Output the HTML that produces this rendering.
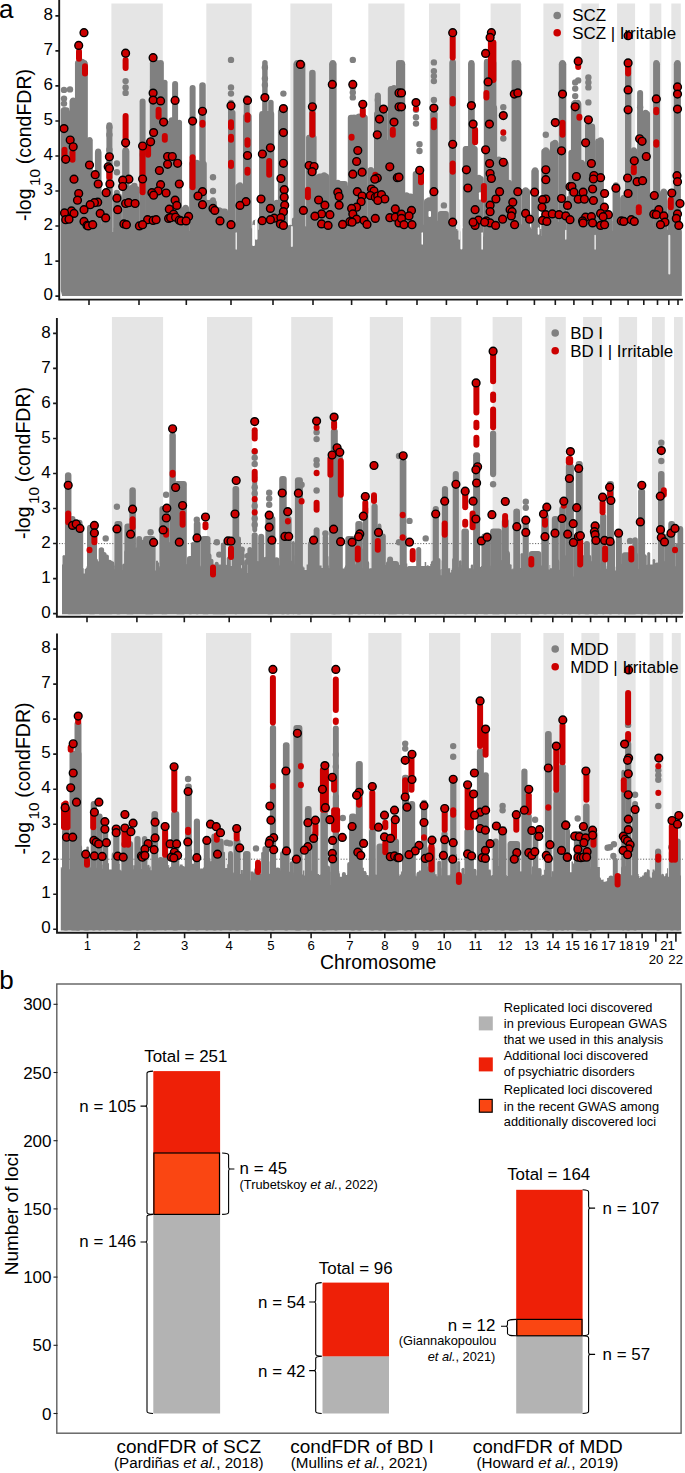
<!DOCTYPE html>
<html><head><meta charset="utf-8"><title>Figure</title><style>html,body{margin:0;padding:0;background:#fff}svg{display:block}</style></head><body>
<svg width="685" height="1473" viewBox="0 0 685 1473" font-family="'Liberation Sans', sans-serif" fill="#000">
<rect x="111.4" y="3.5" width="51.4" height="292.5" fill="#e5e5e5"/>
<rect x="206.3" y="3.5" width="45.4" height="292.5" fill="#e5e5e5"/>
<rect x="290.4" y="3.5" width="41.7" height="292.5" fill="#e5e5e5"/>
<rect x="368.3" y="3.5" width="36.2" height="292.5" fill="#e5e5e5"/>
<rect x="429.0" y="3.5" width="31.2" height="292.5" fill="#e5e5e5"/>
<rect x="490.6" y="3.5" width="30.2" height="292.5" fill="#e5e5e5"/>
<rect x="543.4" y="3.5" width="20.1" height="292.5" fill="#e5e5e5"/>
<rect x="581.4" y="3.5" width="17.5" height="292.5" fill="#e5e5e5"/>
<rect x="617.1" y="3.5" width="18.0" height="292.5" fill="#e5e5e5"/>
<rect x="649.6" y="3.5" width="11.7" height="292.5" fill="#e5e5e5"/>
<rect x="671.3" y="3.5" width="9.5" height="292.5" fill="#e5e5e5"/>
<polygon fill="#808080" points="62.0,296.0 62.0,227.2 63.0,227.2 63.0,230.1 63.7,230.1 63.7,229.7 65.2,229.7 65.2,228.7 66.2,228.7 66.2,230.4 69.2,230.4 69.2,235.2 72.2,235.2 72.2,227.8 74.2,227.8 74.2,226.5 74.9,226.5 74.9,229.6 75.6,229.6 75.6,226.7 77.1,226.7 77.1,233.4 79.1,233.4 79.1,224.9 80.6,224.9 80.6,229.3 81.6,229.3 81.6,223.8 83.1,223.8 83.1,227.9 84.6,227.9 84.6,230.5 86.6,230.5 86.6,229.2 88.6,229.2 88.6,223.7 89.6,223.7 89.6,225.3 91.6,225.3 91.6,226.0 94.6,226.0 94.6,227.0 95.6,227.0 95.6,225.4 98.6,225.4 98.6,233.5 101.6,233.5 101.6,230.6 104.6,230.6 104.6,230.7 105.6,230.7 105.6,229.3 107.6,229.3 107.6,230.9 109.6,230.9 109.6,228.5 111.6,228.5 111.6,231.9 113.6,231.9 113.6,227.8 115.6,227.8 115.6,229.1 117.6,229.1 117.6,228.6 119.6,228.6 119.6,231.2 120.6,231.2 120.6,229.6 121.6,229.6 121.6,228.2 124.6,228.2 124.6,227.8 125.6,227.8 125.6,237.9 127.6,237.9 127.6,223.8 130.6,223.8 130.6,228.0 132.6,228.0 132.6,231.4 134.6,231.4 134.6,227.9 136.1,227.9 136.1,225.4 137.1,225.4 137.1,229.6 140.1,229.6 140.1,231.0 142.1,231.0 142.1,228.7 143.1,228.7 143.1,227.9 144.1,227.9 144.1,227.2 145.1,227.2 145.1,226.8 148.1,226.8 148.1,227.6 148.8,227.6 148.8,228.2 149.5,228.2 149.5,228.9 152.5,228.9 152.5,229.0 153.2,229.0 153.2,229.1 154.2,229.1 154.2,224.6 156.2,224.6 156.2,228.2 158.2,228.2 158.2,228.9 159.2,228.9 159.2,229.9 160.2,229.9 160.2,229.4 161.2,229.4 161.2,229.2 163.2,229.2 163.2,231.5 165.2,231.5 165.2,232.8 166.2,232.8 166.2,225.3 168.2,225.3 168.2,228.0 170.2,228.0 170.2,224.7 171.2,224.7 171.2,229.3 173.2,229.3 173.2,237.0 175.2,237.0 175.2,230.5 178.2,230.5 178.2,229.2 178.9,229.2 178.9,228.7 179.9,228.7 179.9,231.4 182.9,231.4 182.9,228.4 183.9,228.4 183.9,230.3 184.9,230.3 184.9,238.2 187.9,238.2 187.9,231.1 189.9,231.1 189.9,224.5 192.9,224.5 192.9,233.2 194.9,233.2 194.9,230.6 195.6,230.6 195.6,228.1 197.1,228.1 197.1,230.1 199.1,230.1 199.1,231.2 199.8,231.2 199.8,233.2 200.8,233.2 200.8,227.9 201.8,227.9 201.8,229.2 202.8,229.2 202.8,229.7 204.8,229.7 204.8,231.2 206.8,231.2 206.8,230.9 208.8,230.9 208.8,230.8 210.8,230.8 210.8,229.1 211.5,229.1 211.5,230.9 213.5,230.9 213.5,229.4 215.5,229.4 215.5,229.5 216.5,229.5 216.5,224.3 219.5,224.3 219.5,226.2 221.5,226.2 221.5,228.6 223.5,228.6 223.5,231.2 225.0,231.2 225.0,229.0 228.0,229.0 228.0,227.3 228.7,227.3 228.7,230.3 230.2,230.3 230.2,229.4 232.2,229.4 232.2,226.8 233.2,226.8 233.2,226.3 234.7,226.3 234.7,229.6 235.4,229.6 235.4,234.9 237.4,234.9 237.4,226.5 240.4,226.5 240.4,227.8 241.4,227.8 241.4,229.1 242.4,229.1 242.4,231.1 243.4,231.1 243.4,225.5 244.9,225.5 244.9,225.7 246.9,225.7 246.9,228.7 247.9,228.7 247.9,229.5 248.9,229.5 248.9,226.8 249.6,226.8 249.6,228.3 251.6,228.3 251.6,228.8 252.6,228.8 252.6,223.7 253.6,223.7 253.6,231.0 254.3,231.0 254.3,225.0 257.3,225.0 257.3,229.7 259.3,229.7 259.3,229.5 260.3,229.5 260.3,231.1 261.3,231.1 261.3,225.3 262.0,225.3 262.0,228.6 264.0,228.6 264.0,229.5 265.0,229.5 265.0,231.0 266.0,231.0 266.0,225.7 268.0,225.7 268.0,230.4 269.0,230.4 269.0,228.9 272.0,228.9 272.0,228.4 272.7,228.4 272.7,229.4 273.7,229.4 273.7,231.7 274.4,231.7 274.4,228.1 277.4,228.1 277.4,229.3 280.4,229.3 280.4,229.4 283.4,229.4 283.4,230.9 285.4,230.9 285.4,228.6 286.4,228.6 286.4,227.1 287.1,227.1 287.1,231.3 289.1,231.3 289.1,230.8 290.1,230.8 290.1,231.3 293.1,231.3 293.1,227.9 296.1,227.9 296.1,226.0 298.1,226.0 298.1,229.1 299.1,229.1 299.1,228.9 301.1,228.9 301.1,231.5 304.1,231.5 304.1,229.4 307.1,229.4 307.1,228.2 308.6,228.2 308.6,229.1 310.1,229.1 310.1,236.8 311.6,236.8 311.6,226.5 313.1,226.5 313.1,229.0 315.1,229.0 315.1,231.5 316.1,231.5 316.1,229.8 317.1,229.8 317.1,230.1 319.1,230.1 319.1,230.1 320.1,230.1 320.1,223.8 322.1,223.8 322.1,228.9 324.1,228.9 324.1,226.7 325.6,226.7 325.6,230.3 327.6,230.3 327.6,225.8 329.6,225.8 329.6,231.4 331.6,231.4 331.6,231.2 334.6,231.2 334.6,231.0 335.6,231.0 335.6,230.7 336.6,230.7 336.6,229.1 339.6,229.1 339.6,227.8 341.6,227.8 341.6,230.4 344.6,230.4 344.6,229.1 346.6,229.1 346.6,231.4 347.6,231.4 347.6,229.4 349.6,229.4 349.6,230.5 351.6,230.5 351.6,229.1 353.1,229.1 353.1,225.0 355.1,225.0 355.1,227.7 355.8,227.7 355.8,229.3 356.8,229.3 356.8,224.7 357.8,224.7 357.8,229.4 359.8,229.4 359.8,223.7 362.8,223.7 362.8,223.9 364.3,223.9 364.3,229.6 365.8,229.6 365.8,228.1 366.8,228.1 366.8,230.4 367.8,230.4 367.8,224.6 369.3,224.6 369.3,230.8 370.3,230.8 370.3,225.0 371.0,225.0 371.0,236.6 373.0,236.6 373.0,229.4 375.0,229.4 375.0,230.2 376.0,230.2 376.0,230.9 377.0,230.9 377.0,227.2 380.0,227.2 380.0,229.1 383.0,229.1 383.0,231.2 384.0,231.2 384.0,231.2 387.0,231.2 387.0,228.9 388.0,228.9 388.0,236.2 391.0,236.2 391.0,231.5 391.7,231.5 391.7,227.7 394.7,227.7 394.7,230.3 395.4,230.3 395.4,230.6 396.4,230.6 396.4,228.6 399.4,228.6 399.4,228.5 400.9,228.5 400.9,230.9 402.9,230.9 402.9,229.3 404.9,229.3 404.9,230.3 406.4,230.3 406.4,227.4 407.4,227.4 407.4,228.1 409.4,228.1 409.4,228.0 410.9,228.0 410.9,226.6 412.9,226.6 412.9,230.5 414.9,230.5 414.9,230.2 416.9,230.2 416.9,229.9 418.9,229.9 418.9,230.5 420.4,230.5 420.4,226.7 422.4,226.7 422.4,230.8 423.1,230.8 423.1,225.7 425.1,225.7 425.1,230.5 425.8,230.5 425.8,228.4 427.8,228.4 427.8,227.3 428.8,227.3 428.8,229.6 431.8,229.6 431.8,228.4 432.8,228.4 432.8,229.1 434.8,229.1 434.8,229.1 437.8,229.1 437.8,235.7 439.8,235.7 439.8,229.4 441.8,229.4 441.8,229.5 442.5,229.5 442.5,229.1 444.5,229.1 444.5,230.7 445.2,230.7 445.2,230.2 447.2,230.2 447.2,225.8 448.2,225.8 448.2,226.9 448.9,226.9 448.9,230.1 450.9,230.1 450.9,234.0 452.9,234.0 452.9,227.2 454.9,227.2 454.9,230.8 455.9,230.8 455.9,229.1 457.4,229.1 457.4,230.4 460.4,230.4 460.4,231.5 462.4,231.5 462.4,230.6 464.4,230.6 464.4,224.7 467.4,224.7 467.4,223.8 468.4,223.8 468.4,229.0 469.4,229.0 469.4,227.0 471.4,227.0 471.4,231.3 473.4,231.3 473.4,231.4 475.4,231.4 475.4,229.0 476.9,229.0 476.9,225.3 477.9,225.3 477.9,228.9 478.9,228.9 478.9,230.6 480.9,230.6 480.9,229.8 481.6,229.8 481.6,223.7 483.1,223.7 483.1,236.4 483.8,236.4 483.8,228.7 486.8,228.7 486.8,230.8 488.8,230.8 488.8,230.6 490.8,230.6 490.8,230.7 491.8,230.7 491.8,229.3 492.5,229.3 492.5,229.1 494.0,229.1 494.0,229.5 495.0,229.5 495.0,229.0 497.0,229.0 497.0,230.1 499.0,230.1 499.0,223.6 499.7,223.6 499.7,231.6 500.4,231.6 500.4,229.7 501.9,229.7 501.9,229.2 503.9,229.2 503.9,224.3 504.9,224.3 504.9,229.5 505.9,229.5 505.9,230.6 507.4,230.6 507.4,228.8 508.1,228.8 508.1,231.1 508.8,231.1 508.8,232.1 509.5,232.1 509.5,231.4 512.5,231.4 512.5,228.9 515.5,228.9 515.5,229.0 516.2,229.0 516.2,227.1 517.2,227.1 517.2,229.6 519.2,229.6 519.2,224.7 520.2,224.7 520.2,230.4 521.2,230.4 521.2,228.6 524.2,228.6 524.2,227.7 526.2,227.7 526.2,225.0 526.9,225.0 526.9,231.2 528.9,231.2 528.9,226.4 530.4,226.4 530.4,227.4 531.4,227.4 531.4,229.1 534.4,229.1 534.4,231.4 535.1,231.4 535.1,228.7 538.1,228.7 538.1,231.0 540.1,231.0 540.1,228.9 541.6,228.9 541.6,235.9 542.6,235.9 542.6,226.9 544.1,226.9 544.1,227.0 547.1,227.0 547.1,228.8 547.8,228.8 547.8,229.3 548.8,229.3 548.8,229.4 549.5,229.4 549.5,229.0 550.5,229.0 550.5,229.0 553.5,229.0 553.5,229.9 555.5,229.9 555.5,229.2 556.5,229.2 556.5,229.8 557.5,229.8 557.5,229.0 559.5,229.0 559.5,231.6 562.5,231.6 562.5,227.9 564.5,227.9 564.5,231.3 566.5,231.3 566.5,224.4 569.5,224.4 569.5,230.2 570.5,230.2 570.5,229.0 571.2,229.0 571.2,238.1 571.9,238.1 571.9,229.9 573.9,229.9 573.9,229.6 574.9,229.6 574.9,228.6 576.9,228.6 576.9,231.3 577.6,231.3 577.6,227.9 578.6,227.9 578.6,225.2 580.1,225.2 580.1,223.7 581.1,223.7 581.1,226.4 584.1,226.4 584.1,229.2 586.1,229.2 586.1,231.2 588.1,231.2 588.1,227.5 589.1,227.5 589.1,231.6 591.1,231.6 591.1,228.4 594.1,228.4 594.1,228.6 595.6,228.6 595.6,229.0 597.6,229.0 597.6,229.0 599.6,229.0 599.6,229.8 600.3,229.8 600.3,227.2 602.3,227.2 602.3,227.5 604.3,227.5 604.3,230.5 605.3,230.5 605.3,227.0 607.3,227.0 607.3,227.7 610.3,227.7 610.3,229.9 611.3,229.9 611.3,231.1 613.3,231.1 613.3,228.9 615.3,228.9 615.3,227.0 616.3,227.0 616.3,230.6 617.3,230.6 617.3,226.0 619.3,226.0 619.3,227.2 620.8,227.2 620.8,228.6 621.8,228.6 621.8,228.1 623.8,228.1 623.8,230.4 625.3,230.4 625.3,227.8 627.3,227.8 627.3,231.6 628.0,231.6 628.0,229.5 628.7,229.5 628.7,228.0 630.7,228.0 630.7,231.3 633.7,231.3 633.7,230.9 635.7,230.9 635.7,227.9 637.7,227.9 637.7,231.4 639.7,231.4 639.7,230.5 641.7,230.5 641.7,229.0 642.7,229.0 642.7,228.0 644.2,228.0 644.2,228.6 645.2,228.6 645.2,227.9 646.7,227.9 646.7,229.4 647.7,229.4 647.7,224.6 649.7,224.6 649.7,224.1 650.4,224.1 650.4,229.4 651.9,229.4 651.9,230.8 654.9,230.8 654.9,228.4 656.4,228.4 656.4,229.7 659.4,229.7 659.4,231.6 660.9,231.6 660.9,231.2 663.9,231.2 663.9,226.8 665.9,226.8 665.9,230.1 667.4,230.1 667.4,229.4 669.4,229.4 669.4,228.1 670.4,228.1 670.4,226.8 672.4,226.8 672.4,229.3 673.9,229.3 673.9,229.0 674.9,229.0 674.9,233.6 676.9,233.6 676.9,229.3 678.4,229.3 678.4,227.1 680.4,227.1 680.4,231.5 681.1,231.5 681.1,230.2 681.8,230.2 681.8,296.0"/>
<g stroke="#808080" fill="none" stroke-linecap="round"><path d="M64.0 226.2V291.0" stroke-width="5.0"/><path d="M70.9 228.1V291.0" stroke-width="2.5"/><path d="M75.1 229.1V291.0" stroke-width="4.0"/><path d="M79.9 226.3V291.0" stroke-width="6.0"/><path d="M83.7 226.2V291.0" stroke-width="4.0"/><path d="M96.1 221.6V291.0" stroke-width="4.0"/><path d="M100.3 227.1V291.0" stroke-width="6.0"/><path d="M103.8 229.0V291.0" stroke-width="6.0"/><path d="M110.2 228.4V291.0" stroke-width="2.5"/><path d="M133.6 227.4V291.0" stroke-width="5.0"/><path d="M151.7 227.3V291.0" stroke-width="4.0"/><path d="M154.5 224.0V291.0" stroke-width="4.0"/><path d="M158.6 229.4V291.0" stroke-width="6.0"/><path d="M163.6 227.3V291.0" stroke-width="3.0"/><path d="M168.8 227.1V291.0" stroke-width="6.0"/><path d="M172.6 223.9V291.0" stroke-width="5.0"/><path d="M181.7 228.7V291.0" stroke-width="4.0"/><path d="M191.9 228.8V291.0" stroke-width="3.0"/><path d="M205.9 217.4V291.0" stroke-width="3.0"/><path d="M216.5 215.5V291.0" stroke-width="3.0"/><path d="M228.2 229.3V291.0" stroke-width="6.0"/><path d="M234.5 223.6V291.0" stroke-width="4.0"/><path d="M238.8 227.1V291.0" stroke-width="4.0"/><path d="M242.2 229.0V291.0" stroke-width="3.0"/><path d="M249.0 229.2V291.0" stroke-width="5.0"/><path d="M268.0 215.4V291.0" stroke-width="4.0"/><path d="M276.2 226.0V291.0" stroke-width="3.0"/><path d="M288.2 229.0V291.0" stroke-width="2.5"/><path d="M293.9 219.6V291.0" stroke-width="4.0"/><path d="M297.3 210.4V291.0" stroke-width="3.0"/><path d="M305.4 228.2V291.0" stroke-width="4.0"/><path d="M319.0 226.9V291.0" stroke-width="5.0"/><path d="M327.7 217.4V291.0" stroke-width="4.0"/><path d="M338.0 216.9V291.0" stroke-width="2.5"/><path d="M342.9 215.4V291.0" stroke-width="4.0"/><path d="M347.6 228.3V291.0" stroke-width="6.0"/><path d="M353.4 223.9V291.0" stroke-width="6.0"/><path d="M364.3 229.1V291.0" stroke-width="3.0"/><path d="M368.4 229.3V291.0" stroke-width="5.0"/><path d="M378.1 229.4V291.0" stroke-width="4.0"/><path d="M408.2 227.9V291.0" stroke-width="3.0"/><path d="M414.3 224.5V291.0" stroke-width="4.0"/><path d="M417.9 223.5V291.0" stroke-width="6.0"/><path d="M424.3 226.5V291.0" stroke-width="4.0"/><path d="M428.9 225.9V291.0" stroke-width="3.0"/><path d="M433.9 227.9V291.0" stroke-width="4.0"/><path d="M436.9 221.8V291.0" stroke-width="2.5"/><path d="M448.7 226.2V291.0" stroke-width="5.0"/><path d="M453.8 219.8V291.0" stroke-width="3.0"/><path d="M463.2 229.2V291.0" stroke-width="2.5"/><path d="M475.9 229.3V291.0" stroke-width="6.0"/><path d="M479.9 228.7V291.0" stroke-width="4.0"/><path d="M497.6 226.7V291.0" stroke-width="2.5"/><path d="M501.6 218.0V291.0" stroke-width="3.0"/><path d="M505.3 228.5V291.0" stroke-width="6.0"/><path d="M514.0 228.7V291.0" stroke-width="2.5"/><path d="M519.9 228.3V291.0" stroke-width="6.0"/><path d="M522.6 225.9V291.0" stroke-width="4.0"/><path d="M538.2 225.5V291.0" stroke-width="4.0"/><path d="M555.1 222.9V291.0" stroke-width="6.0"/><path d="M560.6 224.1V291.0" stroke-width="6.0"/><path d="M572.3 229.0V291.0" stroke-width="4.0"/><path d="M585.4 228.3V291.0" stroke-width="6.0"/><path d="M596.8 223.5V291.0" stroke-width="5.0"/><path d="M599.9 222.8V291.0" stroke-width="4.0"/><path d="M602.6 220.8V291.0" stroke-width="5.0"/><path d="M607.6 224.3V291.0" stroke-width="2.5"/><path d="M611.4 221.7V291.0" stroke-width="2.5"/><path d="M638.4 224.5V291.0" stroke-width="4.0"/><path d="M642.9 216.4V291.0" stroke-width="2.5"/><path d="M646.8 227.0V291.0" stroke-width="4.0"/><path d="M652.1 229.0V291.0" stroke-width="6.0"/><path d="M657.9 216.1V291.0" stroke-width="6.0"/><path d="M662.3 228.8V291.0" stroke-width="2.5"/><path d="M678.4 222.2V291.0" stroke-width="6.0"/></g>
<g stroke="#808080" fill="#808080" stroke-linecap="round" stroke-width="6.4"><path d="M64.0 110.6V290.0" stroke-width="6.5"/><path d="M67.0 113.1V290.0" stroke-width="6.5"/><path d="M73.2 100.4V290.0" stroke-width="6.0"/><path d="M78.2 63.2V290.0" stroke-width="6.5"/><path d="M82.0 61.9V290.0" stroke-width="6.5"/><path d="M85.0 63.9V290.0" stroke-width="5.5"/><path d="M89.5 140.3V290.0" stroke-width="6.0"/><path d="M98.2 151.5V290.0" stroke-width="6.0"/><path d="M109.4 125.3V290.0" stroke-width="6.0"/><path d="M125.6 150.5V290.0" stroke-width="6.5"/><path d="M142.6 101.6V290.0" stroke-width="6.0"/><path d="M153.1 63.2V290.0" stroke-width="6.5"/><path d="M156.9 63.2V290.0" stroke-width="6.5"/><path d="M160.6 63.2V290.0" stroke-width="6.5"/><path d="M164.8 82.6V290.0" stroke-width="5.5"/><path d="M175.1 84.1V290.0" stroke-width="6.0"/><path d="M179.3 122.6V290.0" stroke-width="5.5"/><path d="M192.6 87.9V290.0" stroke-width="6.0"/><path d="M202.5 85.6V290.0" stroke-width="6.5"/><path d="M213.0 200.2V290.0" stroke-width="6.0"/><path d="M219.3 210.2V290.0" stroke-width="6.0"/><path d="M171.8 120.6V290.0" stroke-width="6.5"/><path d="M185.6 207.7V290.0" stroke-width="6.0"/><path d="M131.9 187.7V290.0" stroke-width="6.0"/><path d="M104.4 192.7V290.0" stroke-width="6.0"/><path d="M94.4 177.7V290.0" stroke-width="6.0"/><path d="M116.9 192.7V290.0" stroke-width="6.0"/><path d="M148.1 142.5V290.0" stroke-width="5.5"/><path d="M196.8 162.8V290.0" stroke-width="6.0"/><path d="M206.8 202.5V290.0" stroke-width="5.5"/><rect x="61.5" y="107.3" width="8.0" height="188.7" rx="3" stroke="none"/><rect x="69.5" y="98.6" width="6.2" height="197.4" rx="3" stroke="none"/><rect x="75.7" y="59.9" width="11.7" height="236.1" rx="3" stroke="none"/><rect x="87.0" y="137.3" width="5.5" height="158.7" rx="3" stroke="none"/><rect x="91.9" y="174.7" width="3.0" height="121.3" rx="3" stroke="none"/><rect x="94.9" y="149.8" width="6.5" height="146.2" rx="3" stroke="none"/><rect x="101.4" y="191.0" width="5.5" height="105.0" rx="3" stroke="none"/><rect x="106.9" y="149.8" width="5.5" height="146.2" rx="3" stroke="none"/><rect x="113.2" y="193.5" width="8.7" height="102.5" rx="3" stroke="none"/><rect x="122.4" y="148.5" width="7.0" height="147.5" rx="3" stroke="none"/><rect x="129.4" y="186.0" width="10.0" height="110.0" rx="3" stroke="none"/><rect x="139.4" y="141.0" width="6.2" height="155.0" rx="3" stroke="none"/><rect x="145.6" y="141.0" width="4.2" height="155.0" rx="3" stroke="none"/><rect x="149.9" y="83.6" width="15.0" height="212.4" rx="3" stroke="none"/><rect x="164.8" y="121.1" width="17.0" height="174.9" rx="3" stroke="none"/><rect x="181.8" y="205.9" width="7.5" height="90.1" rx="3" stroke="none"/><rect x="189.3" y="161.0" width="17.5" height="135.0" rx="3" stroke="none"/><rect x="206.8" y="199.7" width="10.0" height="96.3" rx="3" stroke="none"/><rect x="216.8" y="208.4" width="11.2" height="87.6" rx="3" stroke="none"/><circle cx="64.0" cy="89.9" r="3.2" stroke="none"/><circle cx="70.0" cy="89.4" r="3.2" stroke="none"/><circle cx="64.0" cy="98.6" r="3.2" stroke="none"/><circle cx="64.0" cy="103.6" r="3.2" stroke="none"/><circle cx="116.9" cy="163.5" r="3.2" stroke="none"/><circle cx="116.9" cy="172.2" r="3.2" stroke="none"/><circle cx="125.6" cy="81.1" r="3.2" stroke="none"/><circle cx="125.6" cy="87.4" r="3.2" stroke="none"/><circle cx="125.6" cy="92.9" r="3.2" stroke="none"/><circle cx="213.0" cy="177.2" r="3.2" stroke="none"/><circle cx="213.0" cy="191.0" r="3.2" stroke="none"/><circle cx="109.4" cy="134.8" r="3.2" stroke="none"/><circle cx="109.4" cy="127.3" r="3.2" stroke="none"/><circle cx="109.4" cy="149.8" r="3.2" stroke="none"/><circle cx="134.4" cy="186.0" r="3.2" stroke="none"/><circle cx="142.6" cy="154.8" r="3.2" stroke="none"/><circle cx="192.6" cy="163.5" r="3.2" stroke="none"/><path d="M231.0 102.8V290.0" stroke-width="6.0"/><path d="M246.7 97.9V290.0" stroke-width="6.0"/><path d="M264.9 62.7V290.0" stroke-width="5.5"/><path d="M262.9 116.1V290.0" stroke-width="7.5"/><path d="M269.2 116.1V290.0" stroke-width="7.5"/><path d="M270.9 102.6V290.0" stroke-width="5.5"/><path d="M283.4 110.3V290.0" stroke-width="6.0"/><path d="M297.4 63.2V290.0" stroke-width="6.5"/><path d="M300.9 63.2V290.0" stroke-width="6.5"/><path d="M312.4 73.1V290.0" stroke-width="6.5"/><path d="M332.8 62.9V290.0" stroke-width="6.0"/><path d="M354.1 118.1V290.0" stroke-width="6.5"/><path d="M359.1 116.8V290.0" stroke-width="6.5"/><path d="M363.3 116.8V290.0" stroke-width="6.5"/><path d="M377.8 95.4V290.0" stroke-width="6.0"/><path d="M384.0 112.8V290.0" stroke-width="6.0"/><path d="M394.0 87.9V290.0" stroke-width="6.0"/><path d="M399.0 62.9V290.0" stroke-width="6.0"/><path d="M240.0 185.2V290.0" stroke-width="6.0"/><path d="M324.1 175.2V290.0" stroke-width="6.0"/><path d="M337.8 182.7V290.0" stroke-width="6.0"/><path d="M370.8 170.3V290.0" stroke-width="6.0"/><path d="M309.1 137.8V290.0" stroke-width="6.0"/><path d="M317.9 177.7V290.0" stroke-width="6.0"/><path d="M345.3 187.7V290.0" stroke-width="6.0"/><path d="M387.8 142.8V290.0" stroke-width="6.0"/><path d="M255.5 222.7V290.0" stroke-width="6.0"/><path d="M276.7 202.7V290.0" stroke-width="6.0"/><path d="M290.4 227.7V290.0" stroke-width="6.0"/><rect x="228.0" y="109.8" width="7.5" height="186.2" rx="3" stroke="none"/><rect x="235.5" y="183.5" width="8.0" height="112.5" rx="3" stroke="none"/><rect x="243.0" y="113.6" width="8.7" height="182.4" rx="3" stroke="none"/><rect x="259.2" y="111.1" width="15.0" height="184.9" rx="3" stroke="none"/><rect x="274.2" y="201.0" width="3.7" height="95.0" rx="3" stroke="none"/><rect x="277.9" y="108.6" width="10.0" height="187.4" rx="3" stroke="none"/><rect x="293.4" y="61.2" width="12.0" height="234.8" rx="3" stroke="none"/><rect x="306.6" y="134.8" width="10.0" height="161.2" rx="3" stroke="none"/><rect x="316.6" y="173.5" width="12.5" height="122.5" rx="3" stroke="none"/><rect x="329.1" y="61.2" width="7.5" height="234.8" rx="3" stroke="none"/><rect x="336.6" y="181.0" width="11.2" height="115.0" rx="3" stroke="none"/><rect x="347.8" y="114.8" width="20.0" height="181.2" rx="3" stroke="none"/><rect x="367.8" y="167.3" width="6.2" height="128.7" rx="3" stroke="none"/><rect x="374.0" y="111.1" width="13.7" height="184.9" rx="3" stroke="none"/><rect x="375.3" y="93.6" width="5.5" height="202.4" rx="3" stroke="none"/><rect x="387.8" y="86.1" width="11.2" height="209.9" rx="3" stroke="none"/><circle cx="231.0" cy="59.9" r="3.2" stroke="none"/><circle cx="231.0" cy="87.4" r="3.2" stroke="none"/><circle cx="231.0" cy="93.6" r="3.2" stroke="none"/><circle cx="283.4" cy="93.6" r="3.2" stroke="none"/><circle cx="352.8" cy="59.9" r="3.2" stroke="none"/><circle cx="352.8" cy="87.4" r="3.2" stroke="none"/><circle cx="352.8" cy="92.4" r="3.2" stroke="none"/><circle cx="352.8" cy="97.4" r="3.2" stroke="none"/><circle cx="264.9" cy="78.6" r="3.2" stroke="none"/><circle cx="264.9" cy="67.4" r="3.2" stroke="none"/><circle cx="264.9" cy="84.9" r="3.2" stroke="none"/><circle cx="377.8" cy="99.9" r="3.2" stroke="none"/><path d="M401.5 63.2V290.0" stroke-width="6.5"/><path d="M416.0 175.2V290.0" stroke-width="6.0"/><path d="M420.2 172.7V290.0" stroke-width="6.0"/><path d="M433.9 112.8V290.0" stroke-width="6.0"/><path d="M452.7 61.7V290.0" stroke-width="6.0"/><path d="M471.4 62.9V290.0" stroke-width="6.0"/><path d="M466.9 149.3V290.0" stroke-width="6.5"/><path d="M472.6 148.0V290.0" stroke-width="6.5"/><path d="M486.9 61.7V290.0" stroke-width="6.0"/><path d="M491.4 61.9V290.0" stroke-width="6.5"/><path d="M493.9 108.1V290.0" stroke-width="6.5"/><path d="M503.3 163.0V290.0" stroke-width="6.5"/><path d="M498.9 168.0V290.0" stroke-width="6.5"/><path d="M514.3 62.7V290.0" stroke-width="5.5"/><path d="M517.8 62.7V290.0" stroke-width="5.5"/><path d="M535.1 170.3V290.0" stroke-width="6.0"/><path d="M545.8 150.3V290.0" stroke-width="6.0"/><path d="M555.0 142.8V290.0" stroke-width="6.0"/><path d="M562.5 62.9V290.0" stroke-width="6.0"/><path d="M525.6 190.2V290.0" stroke-width="6.0"/><path d="M406.5 195.2V290.0" stroke-width="6.0"/><path d="M429.0 200.2V290.0" stroke-width="6.0"/><path d="M478.9 177.7V290.0" stroke-width="6.0"/><path d="M508.8 182.7V290.0" stroke-width="6.0"/><path d="M551.3 162.5V290.0" stroke-width="5.5"/><rect x="399.0" y="61.2" width="6.2" height="234.8" rx="3" stroke="none"/><rect x="405.2" y="193.5" width="8.7" height="102.5" rx="3" stroke="none"/><rect x="412.7" y="171.0" width="11.2" height="125.0" rx="3" stroke="none"/><rect x="424.0" y="198.5" width="6.2" height="97.5" rx="3" stroke="none"/><rect x="430.2" y="111.1" width="7.5" height="184.9" rx="3" stroke="none"/><rect x="437.7" y="210.9" width="11.2" height="85.1" rx="3" stroke="none"/><rect x="449.4" y="59.9" width="6.5" height="236.1" rx="3" stroke="none"/><rect x="462.7" y="146.0" width="15.0" height="150.0" rx="3" stroke="none"/><rect x="468.1" y="61.2" width="6.5" height="234.8" rx="3" stroke="none"/><rect x="477.6" y="176.0" width="6.2" height="120.0" rx="3" stroke="none"/><rect x="483.9" y="59.9" width="12.5" height="236.1" rx="3" stroke="none"/><rect x="496.4" y="161.0" width="12.5" height="135.0" rx="3" stroke="none"/><rect x="508.8" y="181.0" width="3.7" height="115.0" rx="3" stroke="none"/><rect x="512.6" y="61.2" width="8.7" height="234.8" rx="3" stroke="none"/><rect x="521.3" y="188.5" width="8.7" height="107.5" rx="3" stroke="none"/><rect x="531.3" y="168.5" width="7.5" height="127.5" rx="3" stroke="none"/><rect x="541.3" y="148.5" width="8.7" height="147.5" rx="3" stroke="none"/><rect x="550.0" y="141.0" width="8.7" height="155.0" rx="3" stroke="none"/><rect x="558.8" y="61.2" width="7.5" height="234.8" rx="3" stroke="none"/><rect x="566.3" y="196.0" width="3.7" height="100.0" rx="3" stroke="none"/><circle cx="416.0" cy="109.8" r="3.2" stroke="none"/><circle cx="416.0" cy="117.3" r="3.2" stroke="none"/><circle cx="416.0" cy="123.6" r="3.2" stroke="none"/><circle cx="419.5" cy="144.3" r="3.2" stroke="none"/><circle cx="419.5" cy="151.0" r="3.2" stroke="none"/><circle cx="433.9" cy="62.4" r="3.2" stroke="none"/><circle cx="433.9" cy="71.1" r="3.2" stroke="none"/><circle cx="433.9" cy="76.1" r="3.2" stroke="none"/><circle cx="433.9" cy="81.1" r="3.2" stroke="none"/><circle cx="433.9" cy="99.9" r="3.2" stroke="none"/><circle cx="503.3" cy="107.3" r="3.2" stroke="none"/><circle cx="503.3" cy="138.5" r="3.2" stroke="none"/><circle cx="545.8" cy="134.8" r="3.2" stroke="none"/><circle cx="443.9" cy="205.4" r="3.2" stroke="none"/><circle cx="498.9" cy="159.8" r="3.2" stroke="none"/><path d="M575.2 102.8V290.0" stroke-width="6.0"/><path d="M577.7 102.8V290.0" stroke-width="6.0"/><path d="M588.4 125.6V290.0" stroke-width="6.5"/><path d="M591.9 128.1V290.0" stroke-width="6.5"/><path d="M600.6 140.3V290.0" stroke-width="6.0"/><path d="M615.9 185.2V290.0" stroke-width="6.0"/><path d="M628.1 65.4V290.0" stroke-width="6.0"/><path d="M640.1 92.9V290.0" stroke-width="6.0"/><path d="M645.6 112.8V290.0" stroke-width="6.0"/><path d="M642.6 143.5V290.0" stroke-width="7.5"/><path d="M656.3 62.9V290.0" stroke-width="6.0"/><path d="M677.5 62.9V290.0" stroke-width="6.0"/><path d="M663.8 191.5V290.0" stroke-width="6.0"/><path d="M633.8 150.3V290.0" stroke-width="6.0"/><path d="M571.4 152.8V290.0" stroke-width="6.0"/><path d="M581.4 163.0V290.0" stroke-width="6.5"/><path d="M596.4 177.7V290.0" stroke-width="6.0"/><path d="M623.8 197.7V290.0" stroke-width="6.0"/><path d="M650.1 197.7V290.0" stroke-width="6.0"/><path d="M671.3 197.5V290.0" stroke-width="5.5"/><rect x="570.9" y="101.1" width="10.5" height="194.9" rx="3" stroke="none"/><rect x="581.4" y="161.0" width="3.7" height="135.0" rx="3" stroke="none"/><rect x="585.1" y="123.6" width="10.0" height="172.4" rx="3" stroke="none"/><rect x="595.1" y="138.5" width="8.7" height="157.5" rx="3" stroke="none"/><rect x="603.9" y="212.2" width="8.7" height="83.8" rx="3" stroke="none"/><rect x="612.6" y="183.5" width="7.5" height="112.5" rx="3" stroke="none"/><rect x="620.1" y="196.0" width="5.0" height="100.0" rx="3" stroke="none"/><rect x="625.1" y="63.7" width="6.2" height="232.3" rx="3" stroke="none"/><rect x="631.3" y="148.5" width="6.2" height="147.5" rx="3" stroke="none"/><rect x="637.6" y="111.1" width="12.5" height="184.9" rx="3" stroke="none"/><rect x="650.1" y="196.0" width="3.2" height="100.0" rx="3" stroke="none"/><rect x="653.3" y="61.2" width="6.7" height="234.8" rx="3" stroke="none"/><rect x="660.0" y="189.7" width="7.5" height="106.3" rx="3" stroke="none"/><rect x="667.5" y="198.5" width="6.2" height="97.5" rx="3" stroke="none"/><rect x="673.8" y="61.2" width="7.0" height="234.8" rx="3" stroke="none"/><circle cx="575.2" cy="82.4" r="3.2" stroke="none"/><circle cx="575.2" cy="88.6" r="3.2" stroke="none"/><circle cx="575.2" cy="96.1" r="3.2" stroke="none"/><circle cx="578.2" cy="80.4" r="3.2" stroke="none"/><circle cx="588.4" cy="77.4" r="3.2" stroke="none"/><circle cx="588.4" cy="82.4" r="3.2" stroke="none"/><circle cx="588.4" cy="87.4" r="3.2" stroke="none"/><circle cx="588.4" cy="102.4" r="3.2" stroke="none"/><circle cx="640.1" cy="107.3" r="3.2" stroke="none"/><circle cx="645.6" cy="117.3" r="3.2" stroke="none"/><circle cx="645.6" cy="124.8" r="3.2" stroke="none"/></g>
<rect x="252.2" y="224.7" width="2.7" height="21.2" rx="1" fill="#fff"/>
<rect x="255.0" y="219.7" width="2.5" height="20.0" rx="1" fill="#fff"/>
<rect x="290.9" y="225.9" width="2.0" height="21.2" rx="1" fill="#e5e5e5"/>
<rect x="235.5" y="232.2" width="1.5" height="17.5" rx="1" fill="#e5e5e5"/>
<rect x="460.4" y="225.9" width="2.0" height="23.7" rx="1" fill="#fff"/>
<rect x="458.4" y="224.7" width="2.0" height="15.0" rx="1" fill="#e5e5e5"/>
<rect x="428.5" y="210.9" width="2.5" height="6.2" rx="1" fill="#fff"/>
<rect x="478.9" y="192.2" width="2.5" height="7.5" rx="1" fill="#fff"/>
<rect x="481.4" y="232.2" width="1.5" height="17.5" rx="1" fill="#fff"/>
<rect x="421.5" y="232.2" width="1.5" height="12.5" rx="1" fill="#fff"/>
<rect x="668.3" y="234.7" width="2.0" height="39.9" rx="1" fill="#e5e5e5"/>
<rect x="594.4" y="234.7" width="1.5" height="15.0" rx="1" fill="#e5e5e5"/>
<rect x="537.7" y="227.2" width="1.7" height="7.5" rx="1" fill="#fff"/>
<rect x="565.2" y="229.7" width="1.2" height="10.0" rx="1" fill="#fff"/>
<g stroke="#cc0000" fill="none" stroke-linecap="round" stroke-width="6"><path d="M79.0 51.2V58.7"/><path d="M85.0 66.2V73.6"/><path d="M72.5 152.3V159.8"/><path d="M125.6 59.9V67.9"/><path d="M125.6 116.1V144.8"/><path d="M142.6 149.8V192.2"/><path d="M158.6 109.8V116.8"/><path d="M164.8 136.1V139.8"/><path d="M202.5 122.8V124.8"/><path d="M192.6 157.3V187.2"/><path d="M109.4 172.2V177.2"/><path d="M64.5 149.8V159.8"/><path d="M148.1 147.3V154.8"/><path d="M231.0 122.3V127.3"/><path d="M231.0 136.8V139.8"/><path d="M231.0 162.8V166.0"/><path d="M247.5 115.3V119.8"/><path d="M247.5 140.3V144.8"/><path d="M247.5 169.8V172.7"/><path d="M269.2 161.0V174.7"/><path d="M312.4 113.6V134.8"/><path d="M362.8 109.8V114.8"/><path d="M351.6 136.8V137.8"/><path d="M392.8 129.8V134.8"/><path d="M307.9 189.7V197.2"/><path d="M375.3 174.7V179.7"/><path d="M452.7 37.4V57.4"/><path d="M452.7 99.1V103.6"/><path d="M452.7 163.5V171.7"/><path d="M490.9 37.4V79.9"/><path d="M493.4 42.4V79.9"/><path d="M486.4 92.9V97.4"/><path d="M433.9 120.3V127.3"/><path d="M416.0 108.6V109.1"/><path d="M503.3 132.3V132.8"/><path d="M562.5 122.8V134.8"/><path d="M421.0 174.7V182.2"/><path d="M483.9 186.0V199.7"/><path d="M475.1 129.8V142.3"/><path d="M578.2 65.4V66.9"/><path d="M628.1 66.2V73.6"/><path d="M579.4 116.8V117.8"/><path d="M656.3 109.8V112.3"/><path d="M656.3 142.3V144.8"/><path d="M633.8 167.3V172.2"/><path d="M670.8 199.7V207.2"/><path d="M638.8 207.2V212.2"/></g>
<g stroke="#000" fill="#cc0000" stroke-width="1.4"><circle cx="84.0" cy="32.7" r="3.9"/><circle cx="78.7" cy="45.4" r="3.9"/><circle cx="125.6" cy="53.2" r="3.9"/><circle cx="153.1" cy="57.7" r="3.9"/><circle cx="153.1" cy="93.1" r="3.9"/><circle cx="153.1" cy="100.1" r="3.9"/><circle cx="160.6" cy="100.9" r="3.9"/><circle cx="175.1" cy="100.4" r="3.9"/><circle cx="202.5" cy="111.3" r="3.9"/><circle cx="163.6" cy="122.1" r="3.9"/><circle cx="192.6" cy="121.1" r="3.9"/><circle cx="64.0" cy="128.6" r="3.9"/><circle cx="153.6" cy="132.6" r="3.9"/><circle cx="70.2" cy="140.0" r="3.9"/><circle cx="73.2" cy="146.8" r="3.9"/><circle cx="125.6" cy="142.8" r="3.9"/><circle cx="150.6" cy="141.8" r="3.9"/><circle cx="142.6" cy="146.0" r="3.9"/><circle cx="65.7" cy="159.3" r="3.9"/><circle cx="109.4" cy="156.8" r="3.9"/><circle cx="89.5" cy="165.0" r="3.9"/><circle cx="108.2" cy="166.8" r="3.9"/><circle cx="109.4" cy="168.5" r="3.9"/><circle cx="167.6" cy="156.5" r="3.9"/><circle cx="172.3" cy="156.5" r="3.9"/><circle cx="167.6" cy="164.3" r="3.9"/><circle cx="177.6" cy="163.3" r="3.9"/><circle cx="159.4" cy="170.5" r="3.9"/><circle cx="95.2" cy="174.7" r="3.9"/><circle cx="74.0" cy="179.2" r="3.9"/><circle cx="128.9" cy="179.2" r="3.9"/><circle cx="122.7" cy="180.2" r="3.9"/><circle cx="142.6" cy="179.0" r="3.9"/><circle cx="98.2" cy="184.0" r="3.9"/><circle cx="109.9" cy="184.0" r="3.9"/><circle cx="122.7" cy="186.5" r="3.9"/><circle cx="160.6" cy="184.7" r="3.9"/><circle cx="179.3" cy="184.0" r="3.9"/><circle cx="158.1" cy="191.0" r="3.9"/><circle cx="166.1" cy="193.0" r="3.9"/><circle cx="151.9" cy="192.7" r="3.9"/><circle cx="153.6" cy="195.2" r="3.9"/><circle cx="202.5" cy="191.7" r="3.9"/><circle cx="106.2" cy="192.7" r="3.9"/><circle cx="78.7" cy="193.5" r="3.9"/><circle cx="198.0" cy="196.0" r="3.9"/><circle cx="116.9" cy="198.2" r="3.9"/><circle cx="77.5" cy="200.2" r="3.9"/><circle cx="175.1" cy="200.2" r="3.9"/><circle cx="97.7" cy="202.2" r="3.9"/><circle cx="94.4" cy="202.7" r="3.9"/><circle cx="90.2" cy="204.7" r="3.9"/><circle cx="125.6" cy="203.5" r="3.9"/><circle cx="128.6" cy="202.7" r="3.9"/><circle cx="135.1" cy="203.5" r="3.9"/><circle cx="202.5" cy="204.7" r="3.9"/><circle cx="176.8" cy="205.4" r="3.9"/><circle cx="213.0" cy="208.4" r="3.9"/><circle cx="214.8" cy="210.4" r="3.9"/><circle cx="117.7" cy="209.7" r="3.9"/><circle cx="84.0" cy="209.7" r="3.9"/><circle cx="169.3" cy="209.2" r="3.9"/><circle cx="71.5" cy="210.9" r="3.9"/><circle cx="64.5" cy="212.9" r="3.9"/><circle cx="74.0" cy="213.4" r="3.9"/><circle cx="100.2" cy="213.4" r="3.9"/><circle cx="173.6" cy="214.2" r="3.9"/><circle cx="188.6" cy="216.4" r="3.9"/><circle cx="105.7" cy="217.9" r="3.9"/><circle cx="168.6" cy="218.4" r="3.9"/><circle cx="170.6" cy="217.7" r="3.9"/><circle cx="175.6" cy="217.2" r="3.9"/><circle cx="65.7" cy="219.7" r="3.9"/><circle cx="69.0" cy="219.2" r="3.9"/><circle cx="147.6" cy="219.7" r="3.9"/><circle cx="153.1" cy="220.4" r="3.9"/><circle cx="156.1" cy="219.7" r="3.9"/><circle cx="179.3" cy="220.2" r="3.9"/><circle cx="181.1" cy="220.9" r="3.9"/><circle cx="186.1" cy="220.9" r="3.9"/><circle cx="220.0" cy="220.9" r="3.9"/><circle cx="84.0" cy="221.4" r="3.9"/><circle cx="87.0" cy="225.4" r="3.9"/><circle cx="88.2" cy="225.9" r="3.9"/><circle cx="92.7" cy="224.7" r="3.9"/><circle cx="123.9" cy="223.9" r="3.9"/><circle cx="126.4" cy="224.7" r="3.9"/><circle cx="139.4" cy="225.9" r="3.9"/><circle cx="142.6" cy="224.7" r="3.9"/><circle cx="300.4" cy="64.4" r="3.9"/><circle cx="332.3" cy="84.4" r="3.9"/><circle cx="352.8" cy="84.4" r="3.9"/><circle cx="247.5" cy="100.4" r="3.9"/><circle cx="264.9" cy="97.6" r="3.9"/><circle cx="231.0" cy="105.8" r="3.9"/><circle cx="283.4" cy="108.6" r="3.9"/><circle cx="312.4" cy="106.8" r="3.9"/><circle cx="362.8" cy="104.3" r="3.9"/><circle cx="383.5" cy="109.1" r="3.9"/><circle cx="399.0" cy="92.9" r="3.9"/><circle cx="399.0" cy="106.8" r="3.9"/><circle cx="379.5" cy="119.1" r="3.9"/><circle cx="394.0" cy="122.1" r="3.9"/><circle cx="283.4" cy="132.6" r="3.9"/><circle cx="377.3" cy="134.8" r="3.9"/><circle cx="270.4" cy="147.8" r="3.9"/><circle cx="247.5" cy="155.5" r="3.9"/><circle cx="262.4" cy="154.0" r="3.9"/><circle cx="357.8" cy="150.5" r="3.9"/><circle cx="283.4" cy="163.3" r="3.9"/><circle cx="356.6" cy="161.5" r="3.9"/><circle cx="309.1" cy="165.5" r="3.9"/><circle cx="314.1" cy="166.5" r="3.9"/><circle cx="312.1" cy="171.7" r="3.9"/><circle cx="389.8" cy="166.8" r="3.9"/><circle cx="362.1" cy="172.2" r="3.9"/><circle cx="352.8" cy="174.2" r="3.9"/><circle cx="280.9" cy="178.5" r="3.9"/><circle cx="377.3" cy="178.0" r="3.9"/><circle cx="374.8" cy="179.2" r="3.9"/><circle cx="397.3" cy="177.7" r="3.9"/><circle cx="284.2" cy="189.7" r="3.9"/><circle cx="337.8" cy="192.2" r="3.9"/><circle cx="357.3" cy="191.7" r="3.9"/><circle cx="371.5" cy="189.0" r="3.9"/><circle cx="374.0" cy="191.0" r="3.9"/><circle cx="284.2" cy="197.2" r="3.9"/><circle cx="339.1" cy="196.5" r="3.9"/><circle cx="362.1" cy="196.0" r="3.9"/><circle cx="370.3" cy="195.5" r="3.9"/><circle cx="375.3" cy="197.2" r="3.9"/><circle cx="377.8" cy="196.0" r="3.9"/><circle cx="381.5" cy="194.7" r="3.9"/><circle cx="384.8" cy="199.0" r="3.9"/><circle cx="377.8" cy="200.5" r="3.9"/><circle cx="318.6" cy="200.0" r="3.9"/><circle cx="361.1" cy="201.7" r="3.9"/><circle cx="261.0" cy="199.0" r="3.9"/><circle cx="246.0" cy="201.7" r="3.9"/><circle cx="240.0" cy="205.4" r="3.9"/><circle cx="284.7" cy="205.2" r="3.9"/><circle cx="324.9" cy="205.2" r="3.9"/><circle cx="339.1" cy="205.2" r="3.9"/><circle cx="270.4" cy="208.4" r="3.9"/><circle cx="356.6" cy="207.2" r="3.9"/><circle cx="351.6" cy="208.4" r="3.9"/><circle cx="303.4" cy="210.4" r="3.9"/><circle cx="395.3" cy="208.9" r="3.9"/><circle cx="283.4" cy="211.7" r="3.9"/><circle cx="321.6" cy="213.9" r="3.9"/><circle cx="329.9" cy="214.7" r="3.9"/><circle cx="314.9" cy="216.2" r="3.9"/><circle cx="352.8" cy="213.9" r="3.9"/><circle cx="274.2" cy="218.2" r="3.9"/><circle cx="280.9" cy="217.7" r="3.9"/><circle cx="262.2" cy="220.7" r="3.9"/><circle cx="270.4" cy="219.7" r="3.9"/><circle cx="356.6" cy="219.2" r="3.9"/><circle cx="375.3" cy="218.4" r="3.9"/><circle cx="389.8" cy="217.7" r="3.9"/><circle cx="395.3" cy="217.2" r="3.9"/><circle cx="364.1" cy="220.4" r="3.9"/><circle cx="349.8" cy="221.7" r="3.9"/><circle cx="352.1" cy="222.2" r="3.9"/><circle cx="231.0" cy="224.7" r="3.9"/><circle cx="280.4" cy="223.9" r="3.9"/><circle cx="283.4" cy="225.4" r="3.9"/><circle cx="321.6" cy="223.9" r="3.9"/><circle cx="328.1" cy="225.4" r="3.9"/><circle cx="342.6" cy="224.4" r="3.9"/><circle cx="367.0" cy="224.4" r="3.9"/><circle cx="399.0" cy="222.9" r="3.9"/><circle cx="452.7" cy="32.7" r="3.9"/><circle cx="491.4" cy="32.7" r="3.9"/><circle cx="490.1" cy="37.4" r="3.9"/><circle cx="485.6" cy="53.4" r="3.9"/><circle cx="488.1" cy="81.9" r="3.9"/><circle cx="401.5" cy="92.9" r="3.9"/><circle cx="514.3" cy="94.1" r="3.9"/><circle cx="517.8" cy="92.9" r="3.9"/><circle cx="562.5" cy="94.1" r="3.9"/><circle cx="416.0" cy="102.6" r="3.9"/><circle cx="401.5" cy="106.8" r="3.9"/><circle cx="433.9" cy="108.1" r="3.9"/><circle cx="471.4" cy="105.6" r="3.9"/><circle cx="503.3" cy="115.6" r="3.9"/><circle cx="473.1" cy="124.1" r="3.9"/><circle cx="489.4" cy="124.1" r="3.9"/><circle cx="555.3" cy="122.6" r="3.9"/><circle cx="452.7" cy="144.3" r="3.9"/><circle cx="485.6" cy="149.8" r="3.9"/><circle cx="561.5" cy="150.8" r="3.9"/><circle cx="489.6" cy="163.5" r="3.9"/><circle cx="503.3" cy="162.3" r="3.9"/><circle cx="419.7" cy="170.3" r="3.9"/><circle cx="466.4" cy="169.8" r="3.9"/><circle cx="545.8" cy="169.8" r="3.9"/><circle cx="490.1" cy="173.5" r="3.9"/><circle cx="491.4" cy="178.5" r="3.9"/><circle cx="399.0" cy="177.2" r="3.9"/><circle cx="545.8" cy="179.7" r="3.9"/><circle cx="467.9" cy="188.0" r="3.9"/><circle cx="433.9" cy="191.7" r="3.9"/><circle cx="499.6" cy="191.7" r="3.9"/><circle cx="517.8" cy="191.7" r="3.9"/><circle cx="534.6" cy="192.2" r="3.9"/><circle cx="570.0" cy="186.7" r="3.9"/><circle cx="495.9" cy="199.0" r="3.9"/><circle cx="545.8" cy="199.0" r="3.9"/><circle cx="542.5" cy="199.7" r="3.9"/><circle cx="561.5" cy="198.5" r="3.9"/><circle cx="512.8" cy="202.2" r="3.9"/><circle cx="490.1" cy="205.2" r="3.9"/><circle cx="542.0" cy="207.2" r="3.9"/><circle cx="567.5" cy="205.4" r="3.9"/><circle cx="411.5" cy="210.4" r="3.9"/><circle cx="475.1" cy="209.7" r="3.9"/><circle cx="490.1" cy="211.7" r="3.9"/><circle cx="510.1" cy="209.7" r="3.9"/><circle cx="512.1" cy="211.7" r="3.9"/><circle cx="401.5" cy="214.2" r="3.9"/><circle cx="409.0" cy="215.9" r="3.9"/><circle cx="525.6" cy="213.4" r="3.9"/><circle cx="545.8" cy="214.7" r="3.9"/><circle cx="552.3" cy="213.9" r="3.9"/><circle cx="559.0" cy="214.7" r="3.9"/><circle cx="565.8" cy="215.9" r="3.9"/><circle cx="511.3" cy="215.9" r="3.9"/><circle cx="401.5" cy="218.4" r="3.9"/><circle cx="529.6" cy="219.2" r="3.9"/><circle cx="502.6" cy="219.2" r="3.9"/><circle cx="478.4" cy="220.2" r="3.9"/><circle cx="570.0" cy="219.7" r="3.9"/><circle cx="542.5" cy="220.4" r="3.9"/><circle cx="546.8" cy="221.4" r="3.9"/><circle cx="486.4" cy="220.9" r="3.9"/><circle cx="490.1" cy="222.9" r="3.9"/><circle cx="452.7" cy="222.2" r="3.9"/><circle cx="404.0" cy="224.7" r="3.9"/><circle cx="412.0" cy="224.7" r="3.9"/><circle cx="475.1" cy="225.4" r="3.9"/><circle cx="495.6" cy="225.4" r="3.9"/><circle cx="514.6" cy="224.7" r="3.9"/><circle cx="473.1" cy="222.2" r="3.9"/><circle cx="484.6" cy="222.2" r="3.9"/><circle cx="578.2" cy="61.2" r="3.9"/><circle cx="628.1" cy="35.7" r="3.9"/><circle cx="628.1" cy="62.9" r="3.9"/><circle cx="628.1" cy="89.9" r="3.9"/><circle cx="628.1" cy="109.8" r="3.9"/><circle cx="656.3" cy="98.9" r="3.9"/><circle cx="677.5" cy="86.9" r="3.9"/><circle cx="677.5" cy="94.1" r="3.9"/><circle cx="677.5" cy="109.1" r="3.9"/><circle cx="575.2" cy="106.8" r="3.9"/><circle cx="588.4" cy="119.8" r="3.9"/><circle cx="585.6" cy="142.8" r="3.9"/><circle cx="639.6" cy="138.8" r="3.9"/><circle cx="642.1" cy="141.3" r="3.9"/><circle cx="646.3" cy="156.5" r="3.9"/><circle cx="634.3" cy="160.8" r="3.9"/><circle cx="591.4" cy="163.5" r="3.9"/><circle cx="576.4" cy="176.5" r="3.9"/><circle cx="593.9" cy="175.5" r="3.9"/><circle cx="600.6" cy="177.7" r="3.9"/><circle cx="593.4" cy="179.0" r="3.9"/><circle cx="627.6" cy="178.0" r="3.9"/><circle cx="637.1" cy="181.7" r="3.9"/><circle cx="642.6" cy="180.7" r="3.9"/><circle cx="677.0" cy="175.7" r="3.9"/><circle cx="677.5" cy="181.7" r="3.9"/><circle cx="571.9" cy="186.5" r="3.9"/><circle cx="592.6" cy="189.0" r="3.9"/><circle cx="615.9" cy="188.2" r="3.9"/><circle cx="573.9" cy="192.2" r="3.9"/><circle cx="583.1" cy="192.2" r="3.9"/><circle cx="604.6" cy="193.5" r="3.9"/><circle cx="628.1" cy="193.5" r="3.9"/><circle cx="654.3" cy="195.5" r="3.9"/><circle cx="671.8" cy="193.0" r="3.9"/><circle cx="578.2" cy="199.2" r="3.9"/><circle cx="584.4" cy="199.2" r="3.9"/><circle cx="593.4" cy="200.5" r="3.9"/><circle cx="680.0" cy="203.5" r="3.9"/><circle cx="604.4" cy="207.2" r="3.9"/><circle cx="658.8" cy="209.7" r="3.9"/><circle cx="600.6" cy="213.4" r="3.9"/><circle cx="608.4" cy="214.7" r="3.9"/><circle cx="603.1" cy="216.7" r="3.9"/><circle cx="653.8" cy="214.2" r="3.9"/><circle cx="656.3" cy="214.7" r="3.9"/><circle cx="663.8" cy="215.9" r="3.9"/><circle cx="677.5" cy="213.9" r="3.9"/><circle cx="585.6" cy="217.2" r="3.9"/><circle cx="591.4" cy="216.7" r="3.9"/><circle cx="582.6" cy="220.9" r="3.9"/><circle cx="592.6" cy="222.9" r="3.9"/><circle cx="583.1" cy="222.9" r="3.9"/><circle cx="600.6" cy="225.4" r="3.9"/><circle cx="604.6" cy="224.7" r="3.9"/><circle cx="621.3" cy="220.9" r="3.9"/><circle cx="623.8" cy="221.4" r="3.9"/><circle cx="631.3" cy="219.7" r="3.9"/><circle cx="634.3" cy="221.4" r="3.9"/><circle cx="665.0" cy="222.2" r="3.9"/><circle cx="660.5" cy="224.7" r="3.9"/><circle cx="676.3" cy="218.4" r="3.9"/><circle cx="678.8" cy="225.4" r="3.9"/></g>
<path d="M59.2 0.0V299.6H683.0" fill="none" stroke="#1a1a1a" stroke-width="1.9"/>
<path d="M89.0 299.6v5.5M139.0 299.6v5.5M186.3 299.6v5.5M231.0 299.6v5.5M273.0 299.6v5.5M313.0 299.6v5.5M351.6 299.6v5.5M386.5 299.6v5.5M417.0 299.6v5.5M446.4 299.6v5.5M477.1 299.6v5.5M507.3 299.6v5.5M534.4 299.6v5.5M555.3 299.6v5.5M573.9 299.6v5.5M592.6 299.6v5.5M610.9 299.6v5.5M628.1 299.6v5.5M643.8 299.6v5.5M657.5 299.6v5.5M668.8 299.6v5.5M678.0 299.6v5.5M59.2 296.1h-3.8M59.2 261.1h-3.8M59.2 226.0h-3.8M59.2 191.0h-3.8M59.2 156.0h-3.8M59.2 121.0h-3.8M59.2 85.9h-3.8M59.2 50.9h-3.8M59.2 15.9h-3.8" stroke="#1a1a1a" stroke-width="1.6" fill="none"/>
<text x="52.9" y="300.2" text-anchor="end" font-size="17">0</text>
<text x="52.9" y="265.2" text-anchor="end" font-size="17">1</text>
<text x="52.9" y="230.1" text-anchor="end" font-size="17">2</text>
<text x="52.9" y="195.1" text-anchor="end" font-size="17">3</text>
<text x="52.9" y="160.1" text-anchor="end" font-size="17">4</text>
<text x="52.9" y="125.1" text-anchor="end" font-size="17">5</text>
<text x="52.9" y="90.0" text-anchor="end" font-size="17">6</text>
<text x="52.9" y="55.0" text-anchor="end" font-size="17">7</text>
<text x="52.9" y="20.0" text-anchor="end" font-size="17">8</text>
<text transform="translate(31.2 145.0) rotate(-90)" text-anchor="middle" font-size="19.5">-log<tspan font-size="15.5" dy="9" dx="2.5">10</tspan><tspan dy="-9" dx="-1"> (condFDR)</tspan></text>
<circle cx="557.2" cy="15.5" r="3.8" fill="#808080"/><circle cx="557.2" cy="32.7" r="3.8" fill="#cc0000"/><text x="572.2" y="21.3" font-size="16.9">SCZ</text><text x="572.2" y="38.5" font-size="16.9">SCZ | Irritable</text>
<text x="-1" y="17.8" font-size="26">a</text>
<rect x="111.9" y="317.0" width="51.2" height="297.2" fill="#e5e5e5"/>
<rect x="207.0" y="317.0" width="45.2" height="297.2" fill="#e5e5e5"/>
<rect x="291.2" y="317.0" width="41.6" height="297.2" fill="#e5e5e5"/>
<rect x="369.8" y="317.0" width="33.2" height="297.2" fill="#e5e5e5"/>
<rect x="430.5" y="317.0" width="30.9" height="297.2" fill="#e5e5e5"/>
<rect x="492.6" y="317.0" width="29.5" height="297.2" fill="#e5e5e5"/>
<rect x="545.3" y="317.0" width="20.5" height="297.2" fill="#e5e5e5"/>
<rect x="583.1" y="317.0" width="18.8" height="297.2" fill="#e5e5e5"/>
<rect x="618.8" y="317.0" width="18.3" height="297.2" fill="#e5e5e5"/>
<rect x="652.0" y="317.0" width="12.8" height="297.2" fill="#e5e5e5"/>
<rect x="674.0" y="317.0" width="8.8" height="297.2" fill="#e5e5e5"/>
<path d="M59.0 543.6H684.5" stroke="#555" stroke-width="0.9" stroke-dasharray="1.2 1.6" fill="none"/>
<polygon fill="#808080" points="62.0,614.2 62.0,564.6 65.0,564.6 65.0,568.3 65.7,568.3 65.7,567.6 68.7,567.6 68.7,567.9 70.7,567.9 70.7,569.1 72.7,569.1 72.7,565.4 74.2,565.4 74.2,562.6 76.2,562.6 76.2,570.5 77.7,570.5 77.7,574.5 80.7,574.5 80.7,563.1 81.7,563.1 81.7,568.3 83.7,568.3 83.7,573.4 84.7,573.4 84.7,568.9 85.7,568.9 85.7,568.1 87.7,568.1 87.7,565.9 89.2,565.9 89.2,569.6 92.2,569.6 92.2,561.0 93.2,561.0 93.2,563.2 94.2,563.2 94.2,569.4 96.2,569.4 96.2,569.3 97.7,569.3 97.7,567.4 99.7,567.4 99.7,563.0 101.2,563.0 101.2,566.6 103.2,566.6 103.2,568.5 104.7,568.5 104.7,565.5 105.7,565.5 105.7,570.5 107.7,570.5 107.7,570.2 108.7,570.2 108.7,569.4 111.7,569.4 111.7,567.2 113.7,567.2 113.7,569.3 115.7,569.3 115.7,568.5 117.7,568.5 117.7,567.8 120.7,567.8 120.7,570.0 123.7,570.0 123.7,568.6 124.4,568.6 124.4,570.4 126.4,570.4 126.4,568.3 127.1,568.3 127.1,568.4 128.1,568.4 128.1,570.0 128.8,570.0 128.8,573.7 129.5,573.7 129.5,568.5 130.5,568.5 130.5,576.6 131.2,576.6 131.2,568.2 131.9,568.2 131.9,566.7 132.9,566.7 132.9,567.9 133.6,567.9 133.6,567.9 134.6,567.9 134.6,562.3 135.6,562.3 135.6,568.8 137.6,568.8 137.6,569.5 138.3,569.5 138.3,565.2 140.3,565.2 140.3,569.7 143.3,569.7 143.3,568.5 144.3,568.5 144.3,565.4 146.3,565.4 146.3,570.4 147.0,570.4 147.0,570.1 148.0,570.1 148.0,568.2 149.5,568.2 149.5,569.6 150.5,569.6 150.5,566.0 152.0,566.0 152.0,567.8 153.0,567.8 153.0,568.1 154.0,568.1 154.0,570.5 156.0,570.5 156.0,560.8 158.0,560.8 158.0,568.5 159.0,568.5 159.0,566.3 159.7,566.3 159.7,567.4 162.7,567.4 162.7,569.4 164.7,569.4 164.7,569.0 165.4,569.0 165.4,570.0 166.4,570.0 166.4,567.9 167.4,567.9 167.4,568.5 170.4,568.5 170.4,567.0 172.4,567.0 172.4,568.0 174.4,568.0 174.4,561.9 177.4,561.9 177.4,567.9 178.9,567.9 178.9,574.1 180.9,574.1 180.9,565.1 182.9,565.1 182.9,567.3 184.9,567.3 184.9,564.3 186.9,564.3 186.9,570.8 187.9,570.8 187.9,570.4 188.9,570.4 188.9,568.7 190.4,568.7 190.4,565.5 193.4,565.5 193.4,569.0 196.4,569.0 196.4,570.5 197.9,570.5 197.9,568.7 199.9,568.7 199.9,570.0 200.9,570.0 200.9,568.0 201.9,568.0 201.9,569.9 203.9,569.9 203.9,567.2 204.9,567.2 204.9,568.2 205.6,568.2 205.6,566.2 207.6,566.2 207.6,568.7 208.6,568.7 208.6,567.9 210.6,567.9 210.6,568.9 212.6,568.9 212.6,568.9 214.1,568.9 214.1,569.2 215.6,569.2 215.6,565.1 217.6,565.1 217.6,567.2 220.6,567.2 220.6,568.6 221.6,568.6 221.6,566.0 223.1,566.0 223.1,565.5 223.8,565.5 223.8,568.3 224.5,568.3 224.5,569.1 226.5,569.1 226.5,565.2 227.2,565.2 227.2,562.2 229.2,562.2 229.2,563.2 230.2,563.2 230.2,566.1 232.2,566.1 232.2,568.7 233.7,568.7 233.7,570.6 234.7,570.6 234.7,568.8 237.7,568.8 237.7,567.8 238.7,567.8 238.7,569.9 239.7,569.9 239.7,567.4 241.2,567.4 241.2,568.2 244.2,568.2 244.2,565.6 245.7,565.6 245.7,564.1 247.2,564.1 247.2,573.0 249.2,573.0 249.2,565.1 250.2,565.1 250.2,567.4 252.2,567.4 252.2,570.0 254.2,570.0 254.2,570.3 256.2,570.3 256.2,569.7 258.2,569.7 258.2,567.3 259.7,567.3 259.7,563.5 261.7,563.5 261.7,565.3 263.7,565.3 263.7,568.1 265.7,568.1 265.7,561.9 267.2,561.9 267.2,568.4 269.2,568.4 269.2,569.5 269.9,569.5 269.9,570.0 272.9,570.0 272.9,566.8 274.9,566.8 274.9,569.6 276.9,569.6 276.9,569.3 278.4,569.3 278.4,568.4 279.4,568.4 279.4,567.8 282.4,567.8 282.4,569.8 283.9,569.8 283.9,566.9 284.6,566.9 284.6,563.0 286.6,563.0 286.6,570.8 288.6,570.8 288.6,568.1 290.6,568.1 290.6,560.8 293.6,560.8 293.6,565.7 294.6,565.7 294.6,568.6 297.6,568.6 297.6,569.2 299.1,569.2 299.1,568.6 300.1,568.6 300.1,563.3 301.6,563.3 301.6,566.5 303.6,566.5 303.6,567.6 304.6,567.6 304.6,569.9 306.6,569.9 306.6,564.5 308.6,564.5 308.6,568.8 311.6,568.8 311.6,569.7 314.6,569.7 314.6,568.4 316.6,568.4 316.6,569.6 318.6,569.6 318.6,565.6 321.6,565.6 321.6,567.9 323.6,567.9 323.6,566.7 325.1,566.7 325.1,564.4 325.8,564.4 325.8,565.4 328.8,565.4 328.8,568.0 329.8,568.0 329.8,569.3 331.3,569.3 331.3,570.5 334.3,570.5 334.3,569.7 336.3,569.7 336.3,568.1 337.3,568.1 337.3,570.1 338.3,570.1 338.3,568.9 341.3,568.9 341.3,568.6 344.3,568.6 344.3,567.2 346.3,567.2 346.3,567.7 349.3,567.7 349.3,562.8 351.3,562.8 351.3,567.5 353.3,567.5 353.3,565.3 354.8,565.3 354.8,564.9 356.8,564.9 356.8,569.7 357.8,569.7 357.8,569.0 358.5,569.0 358.5,570.5 359.5,570.5 359.5,570.5 361.0,570.5 361.0,568.9 362.0,568.9 362.0,568.3 362.7,568.3 362.7,561.3 363.4,561.3 363.4,568.8 366.4,568.8 366.4,570.3 367.4,570.3 367.4,569.2 368.9,569.2 368.9,568.4 369.9,568.4 369.9,568.2 371.4,568.2 371.4,568.2 372.4,568.2 372.4,568.8 373.4,568.8 373.4,565.9 374.4,565.9 374.4,568.9 375.1,568.9 375.1,565.4 378.1,565.4 378.1,567.1 379.1,567.1 379.1,568.8 382.1,568.8 382.1,567.4 384.1,567.4 384.1,565.0 387.1,565.0 387.1,563.2 388.1,563.2 388.1,570.4 389.6,570.4 389.6,566.4 391.6,566.4 391.6,569.8 393.6,569.8 393.6,561.4 395.1,561.4 395.1,569.0 396.6,569.0 396.6,571.7 398.1,571.7 398.1,570.6 400.1,570.6 400.1,568.3 402.1,568.3 402.1,570.2 403.6,570.2 403.6,569.8 404.3,569.8 404.3,568.2 405.3,568.2 405.3,563.5 407.3,563.5 407.3,568.6 410.3,568.6 410.3,569.2 411.8,569.2 411.8,576.4 413.8,576.4 413.8,568.4 415.8,568.4 415.8,566.7 416.5,566.7 416.5,568.5 418.5,568.5 418.5,568.2 419.5,568.2 419.5,569.2 420.2,569.2 420.2,572.5 423.2,572.5 423.2,569.7 424.7,569.7 424.7,561.9 426.2,561.9 426.2,566.1 428.2,566.1 428.2,570.3 430.2,570.3 430.2,564.1 432.2,564.1 432.2,569.1 433.2,569.1 433.2,568.7 434.7,568.7 434.7,566.6 435.7,566.6 435.7,569.4 437.2,569.4 437.2,563.9 438.7,563.9 438.7,569.4 440.7,569.4 440.7,575.2 441.4,575.2 441.4,569.0 442.4,569.0 442.4,566.3 443.1,566.3 443.1,570.0 445.1,570.0 445.1,577.0 447.1,577.0 447.1,568.2 450.1,568.2 450.1,572.4 451.1,572.4 451.1,569.9 451.8,569.9 451.8,568.4 452.8,568.4 452.8,562.9 454.8,562.9 454.8,564.2 455.8,564.2 455.8,567.7 456.8,567.7 456.8,567.1 458.8,567.1 458.8,568.7 460.3,568.7 460.3,568.3 461.3,568.3 461.3,565.0 463.3,565.0 463.3,568.8 464.0,568.8 464.0,566.4 466.0,566.4 466.0,564.0 468.0,564.0 468.0,568.3 471.0,568.3 471.0,569.2 474.0,569.2 474.0,569.6 475.0,569.6 475.0,569.2 477.0,569.2 477.0,565.4 478.0,565.4 478.0,568.3 479.0,568.3 479.0,566.9 481.0,566.9 481.0,566.2 484.0,566.2 484.0,567.6 485.0,567.6 485.0,570.3 486.0,570.3 486.0,577.8 486.7,577.8 486.7,564.6 487.7,564.6 487.7,570.0 489.7,570.0 489.7,568.5 490.7,568.5 490.7,568.7 492.2,568.7 492.2,568.0 494.2,568.0 494.2,567.3 495.2,567.3 495.2,567.0 495.9,567.0 495.9,566.8 496.9,566.8 496.9,567.8 499.9,567.8 499.9,570.7 501.9,570.7 501.9,569.9 502.9,569.9 502.9,569.6 505.9,569.6 505.9,568.5 507.4,568.5 507.4,567.8 508.4,567.8 508.4,569.7 509.4,569.7 509.4,568.3 510.9,568.3 510.9,569.2 512.4,569.2 512.4,568.5 513.9,568.5 513.9,570.3 514.6,570.3 514.6,566.6 515.3,566.6 515.3,576.5 516.0,576.5 516.0,568.6 517.5,568.6 517.5,569.4 518.5,569.4 518.5,568.0 521.5,568.0 521.5,567.9 523.0,567.9 523.0,571.1 523.7,571.1 523.7,568.8 525.7,568.8 525.7,572.0 527.7,572.0 527.7,564.4 528.7,564.4 528.7,569.8 530.7,569.8 530.7,568.2 531.7,568.2 531.7,568.6 532.7,568.6 532.7,563.4 533.4,563.4 533.4,568.4 534.4,568.4 534.4,570.2 535.4,570.2 535.4,565.0 536.4,565.0 536.4,565.2 537.4,565.2 537.4,568.2 539.4,568.2 539.4,570.3 540.1,570.3 540.1,570.7 540.8,570.7 540.8,565.4 542.8,565.4 542.8,566.8 543.5,566.8 543.5,569.1 546.5,569.1 546.5,569.6 549.5,569.6 549.5,564.9 550.2,564.9 550.2,568.3 553.2,568.3 553.2,564.6 553.9,564.6 553.9,565.1 554.9,565.1 554.9,570.5 555.9,570.5 555.9,561.1 556.6,561.1 556.6,568.4 557.6,568.4 557.6,568.5 558.3,568.5 558.3,569.8 561.3,569.8 561.3,570.8 562.0,570.8 562.0,570.1 563.5,570.1 563.5,569.2 564.5,569.2 564.5,578.5 565.5,578.5 565.5,569.1 566.5,569.1 566.5,565.5 568.0,565.5 568.0,568.2 571.0,568.2 571.0,561.4 573.0,561.4 573.0,576.4 574.0,576.4 574.0,566.5 575.0,566.5 575.0,562.9 576.0,562.9 576.0,568.6 577.0,568.6 577.0,569.7 578.0,569.7 578.0,566.3 578.7,566.3 578.7,570.6 579.4,570.6 579.4,562.6 580.1,562.6 580.1,568.6 582.1,568.6 582.1,567.3 583.6,567.3 583.6,565.2 586.6,565.2 586.6,566.7 587.6,566.7 587.6,570.6 589.1,570.6 589.1,569.3 590.1,569.3 590.1,566.2 591.1,566.2 591.1,569.6 592.6,569.6 592.6,568.1 594.6,568.1 594.6,563.2 596.6,563.2 596.6,562.0 598.6,562.0 598.6,570.2 600.6,570.2 600.6,568.5 601.6,568.5 601.6,569.2 603.6,569.2 603.6,561.6 605.6,561.6 605.6,568.7 607.1,568.7 607.1,569.9 608.6,569.9 608.6,566.1 609.6,566.1 609.6,568.0 611.1,568.0 611.1,570.6 611.8,570.6 611.8,568.8 612.8,568.8 612.8,570.3 614.3,570.3 614.3,566.7 615.3,566.7 615.3,570.6 616.8,570.6 616.8,562.4 618.3,562.4 618.3,574.7 619.3,574.7 619.3,568.8 621.3,568.8 621.3,570.5 622.8,570.5 622.8,566.2 623.5,566.2 623.5,570.0 625.5,570.0 625.5,568.7 626.5,568.7 626.5,569.6 629.5,569.6 629.5,568.6 631.0,568.6 631.0,568.9 633.0,568.9 633.0,564.9 634.0,564.9 634.0,562.6 635.0,562.6 635.0,567.9 637.0,567.9 637.0,569.0 639.0,569.0 639.0,566.8 640.0,566.8 640.0,576.9 641.0,576.9 641.0,568.3 643.0,568.3 643.0,566.4 644.0,566.4 644.0,566.3 645.0,566.3 645.0,565.1 648.0,565.1 648.0,569.7 650.0,569.7 650.0,568.0 651.5,568.0 651.5,569.7 652.5,569.7 652.5,577.8 653.2,577.8 653.2,573.7 654.2,573.7 654.2,570.7 655.7,570.7 655.7,570.4 656.7,570.4 656.7,570.7 659.7,570.7 659.7,570.4 660.4,570.4 660.4,570.2 662.4,570.2 662.4,567.6 664.4,567.6 664.4,569.5 665.1,569.5 665.1,568.2 665.8,568.2 665.8,570.6 667.8,570.6 667.8,573.5 670.8,573.5 670.8,570.7 673.8,570.7 673.8,566.3 676.8,566.3 676.8,568.4 679.8,568.4 679.8,570.6 680.8,570.6 680.8,568.6 681.5,568.6 681.5,566.8 682.5,566.8 682.5,614.2"/>
<g stroke="#808080" fill="none" stroke-linecap="round"><path d="M64.0 556.5V609.2" stroke-width="3.0"/><path d="M68.6 566.4V609.2" stroke-width="6.0"/><path d="M76.6 561.7V609.2" stroke-width="6.0"/><path d="M80.3 564.6V609.2" stroke-width="2.5"/><path d="M89.4 568.1V609.2" stroke-width="6.0"/><path d="M92.7 560.2V609.2" stroke-width="3.0"/><path d="M96.0 560.4V609.2" stroke-width="4.0"/><path d="M100.9 566.8V609.2" stroke-width="5.0"/><path d="M104.1 554.6V609.2" stroke-width="5.0"/><path d="M106.9 556.4V609.2" stroke-width="4.0"/><path d="M110.5 568.7V609.2" stroke-width="5.0"/><path d="M113.4 566.2V609.2" stroke-width="2.5"/><path d="M117.9 565.8V609.2" stroke-width="4.0"/><path d="M124.1 565.6V609.2" stroke-width="4.0"/><path d="M127.2 552.5V609.2" stroke-width="6.0"/><path d="M131.2 550.6V609.2" stroke-width="3.0"/><path d="M139.2 538.9V609.2" stroke-width="6.0"/><path d="M142.7 541.8V609.2" stroke-width="4.0"/><path d="M146.0 560.7V609.2" stroke-width="3.0"/><path d="M151.8 558.2V609.2" stroke-width="4.0"/><path d="M157.6 563.5V609.2" stroke-width="3.0"/><path d="M165.4 536.8V609.2" stroke-width="2.5"/><path d="M168.4 545.1V609.2" stroke-width="6.0"/><path d="M182.6 565.9V609.2" stroke-width="2.5"/><path d="M186.5 565.9V609.2" stroke-width="3.0"/><path d="M192.9 544.1V609.2" stroke-width="4.0"/><path d="M203.0 567.7V609.2" stroke-width="6.0"/><path d="M209.0 555.7V609.2" stroke-width="5.0"/><path d="M211.5 560.7V609.2" stroke-width="4.0"/><path d="M216.7 563.7V609.2" stroke-width="4.0"/><path d="M219.5 566.5V609.2" stroke-width="2.5"/><path d="M223.4 544.9V609.2" stroke-width="5.0"/><path d="M228.8 558.4V609.2" stroke-width="4.0"/><path d="M234.7 554.1V609.2" stroke-width="6.0"/><path d="M239.0 538.5V609.2" stroke-width="4.0"/><path d="M243.0 552.2V609.2" stroke-width="2.5"/><path d="M245.6 562.9V609.2" stroke-width="3.0"/><path d="M249.9 549.4V609.2" stroke-width="5.0"/><path d="M254.4 540.9V609.2" stroke-width="3.0"/><path d="M257.9 562.2V609.2" stroke-width="2.5"/><path d="M261.2 536.8V609.2" stroke-width="6.0"/><path d="M265.6 558.7V609.2" stroke-width="4.0"/><path d="M269.2 546.0V609.2" stroke-width="6.0"/><path d="M272.3 536.8V609.2" stroke-width="3.0"/><path d="M276.5 560.3V609.2" stroke-width="6.0"/><path d="M279.8 566.8V609.2" stroke-width="3.0"/><path d="M289.1 551.5V609.2" stroke-width="2.5"/><path d="M292.9 565.0V609.2" stroke-width="4.0"/><path d="M296.4 556.6V609.2" stroke-width="4.0"/><path d="M300.1 563.6V609.2" stroke-width="2.5"/><path d="M310.0 556.7V609.2" stroke-width="4.0"/><path d="M313.5 566.2V609.2" stroke-width="4.0"/><path d="M317.5 565.5V609.2" stroke-width="3.0"/><path d="M327.0 557.1V609.2" stroke-width="3.0"/><path d="M331.8 558.8V609.2" stroke-width="3.0"/><path d="M340.8 560.4V609.2" stroke-width="2.5"/><path d="M346.2 566.5V609.2" stroke-width="2.5"/><path d="M350.4 567.5V609.2" stroke-width="2.5"/><path d="M355.6 567.2V609.2" stroke-width="6.0"/><path d="M364.3 549.7V609.2" stroke-width="4.0"/><path d="M367.2 563.1V609.2" stroke-width="4.0"/><path d="M379.7 546.5V609.2" stroke-width="6.0"/><path d="M387.4 567.2V609.2" stroke-width="2.5"/><path d="M390.1 559.4V609.2" stroke-width="6.0"/><path d="M396.4 566.0V609.2" stroke-width="4.0"/><path d="M399.6 567.3V609.2" stroke-width="5.0"/><path d="M405.3 536.8V609.2" stroke-width="2.5"/><path d="M409.0 567.6V609.2" stroke-width="2.5"/><path d="M418.7 549.6V609.2" stroke-width="5.0"/><path d="M427.7 566.6V609.2" stroke-width="2.5"/><path d="M433.4 563.0V609.2" stroke-width="5.0"/><path d="M438.5 560.0V609.2" stroke-width="4.0"/><path d="M443.7 561.0V609.2" stroke-width="4.0"/><path d="M454.6 559.9V609.2" stroke-width="5.0"/><path d="M460.3 561.7V609.2" stroke-width="3.0"/><path d="M466.4 567.6V609.2" stroke-width="4.0"/><path d="M472.0 565.8V609.2" stroke-width="2.5"/><path d="M476.9 556.1V609.2" stroke-width="4.0"/><path d="M482.0 567.6V609.2" stroke-width="3.0"/><path d="M487.5 568.3V609.2" stroke-width="2.5"/><path d="M491.7 566.4V609.2" stroke-width="3.0"/><path d="M496.4 560.8V609.2" stroke-width="6.0"/><path d="M500.9 562.9V609.2" stroke-width="6.0"/><path d="M507.0 553.6V609.2" stroke-width="6.0"/><path d="M510.4 565.6V609.2" stroke-width="2.5"/><path d="M522.0 554.4V609.2" stroke-width="3.0"/><path d="M525.3 567.2V609.2" stroke-width="4.0"/><path d="M529.9 567.1V609.2" stroke-width="4.0"/><path d="M533.6 564.9V609.2" stroke-width="2.5"/><path d="M537.3 565.9V609.2" stroke-width="5.0"/><path d="M545.3 568.0V609.2" stroke-width="5.0"/><path d="M556.4 562.1V609.2" stroke-width="6.0"/><path d="M562.2 553.1V609.2" stroke-width="4.0"/><path d="M566.0 557.3V609.2" stroke-width="4.0"/><path d="M575.2 536.8V609.2" stroke-width="2.5"/><path d="M589.8 563.0V609.2" stroke-width="5.0"/><path d="M595.2 549.7V609.2" stroke-width="4.0"/><path d="M599.5 563.8V609.2" stroke-width="2.5"/><path d="M604.3 566.7V609.2" stroke-width="4.0"/><path d="M610.0 546.1V609.2" stroke-width="6.0"/><path d="M613.8 542.5V609.2" stroke-width="2.5"/><path d="M622.3 566.3V609.2" stroke-width="5.0"/><path d="M628.4 562.1V609.2" stroke-width="4.0"/><path d="M632.5 561.7V609.2" stroke-width="4.0"/><path d="M644.8 556.2V609.2" stroke-width="4.0"/><path d="M648.7 553.5V609.2" stroke-width="3.0"/><path d="M653.9 560.3V609.2" stroke-width="2.5"/><path d="M657.2 565.6V609.2" stroke-width="6.0"/><path d="M662.5 563.6V609.2" stroke-width="6.0"/><path d="M667.3 536.8V609.2" stroke-width="6.0"/><path d="M677.2 545.0V609.2" stroke-width="4.0"/></g>
<g stroke="#808080" fill="#808080" stroke-linecap="round" stroke-width="6.4"><path d="M68.2 475.5V608.2" stroke-width="6.5"/><path d="M101.4 549.9V608.2" stroke-width="5.5"/><path d="M109.4 562.4V608.2" stroke-width="5.5"/><path d="M132.6 490.5V608.2" stroke-width="6.5"/><path d="M137.4 549.9V608.2" stroke-width="5.5"/><path d="M172.6 435.6V608.2" stroke-width="6.5"/><path d="M72.5 519.0V608.2" stroke-width="6.0"/><path d="M79.5 522.7V608.2" stroke-width="6.0"/><rect x="65.7" y="523.4" width="17.5" height="90.8" rx="3" stroke="none"/><rect x="87.0" y="524.7" width="10.0" height="89.5" rx="3" stroke="none"/><rect x="114.4" y="520.9" width="8.0" height="93.3" rx="3" stroke="none"/><rect x="124.4" y="523.4" width="11.2" height="90.8" rx="3" stroke="none"/><rect x="143.1" y="535.9" width="12.5" height="78.3" rx="3" stroke="none"/><rect x="159.4" y="506.0" width="10.0" height="108.2" rx="3" stroke="none"/><rect x="174.3" y="481.0" width="12.5" height="133.2" rx="3" stroke="none"/><rect x="193.8" y="520.9" width="6.7" height="93.3" rx="3" stroke="none"/><rect x="200.5" y="535.9" width="10.0" height="78.3" rx="3" stroke="none"/><rect x="210.5" y="564.6" width="17.5" height="49.6" rx="3" stroke="none"/><rect x="96.9" y="560.9" width="17.5" height="53.3" rx="3" stroke="none"/><rect x="186.8" y="555.9" width="7.0" height="58.3" rx="3" stroke="none"/><circle cx="105.7" cy="538.4" r="3.2" stroke="none"/><circle cx="116.9" cy="506.7" r="3.2" stroke="none"/><circle cx="166.1" cy="494.7" r="3.2" stroke="none"/><circle cx="183.1" cy="484.8" r="3.2" stroke="none"/><circle cx="216.8" cy="542.2" r="3.2" stroke="none"/><circle cx="219.3" cy="554.6" r="3.2" stroke="none"/><circle cx="196.8" cy="519.7" r="3.2" stroke="none"/><circle cx="150.6" cy="532.2" r="3.2" stroke="none"/><path d="M254.7 535.2V608.2" stroke-width="6.0"/><path d="M316.6 530.2V608.2" stroke-width="6.0"/><path d="M325.4 537.4V608.2" stroke-width="5.5"/><rect x="232.5" y="486.0" width="6.7" height="128.2" rx="3" stroke="none"/><rect x="265.4" y="516.0" width="10.0" height="98.2" rx="3" stroke="none"/><rect x="279.2" y="476.0" width="7.5" height="138.2" rx="3" stroke="none"/><rect x="284.2" y="516.0" width="7.5" height="98.2" rx="3" stroke="none"/><rect x="294.9" y="477.3" width="8.0" height="136.9" rx="3" stroke="none"/><rect x="307.9" y="540.9" width="7.5" height="73.3" rx="3" stroke="none"/><rect x="329.1" y="451.1" width="13.7" height="163.1" rx="3" stroke="none"/><rect x="330.8" y="428.6" width="7.0" height="185.6" rx="3" stroke="none"/><rect x="345.3" y="535.9" width="10.0" height="78.3" rx="3" stroke="none"/><rect x="355.3" y="520.9" width="7.5" height="93.3" rx="3" stroke="none"/><rect x="362.8" y="506.0" width="5.5" height="108.2" rx="3" stroke="none"/><rect x="371.5" y="503.5" width="6.2" height="110.7" rx="3" stroke="none"/><rect x="377.3" y="523.4" width="4.2" height="90.8" rx="3" stroke="none"/><rect x="380.8" y="533.4" width="5.0" height="80.8" rx="3" stroke="none"/><rect x="385.8" y="560.9" width="13.2" height="53.3" rx="3" stroke="none"/><rect x="291.7" y="540.9" width="3.2" height="73.3" rx="3" stroke="none"/><path d="M254.7 477.3V529.7" stroke-width="5.0"/><circle cx="241.7" cy="549.7" r="3.2" stroke="none"/><circle cx="241.7" cy="555.9" r="3.2" stroke="none"/><circle cx="241.7" cy="562.1" r="3.2" stroke="none"/><circle cx="248.0" cy="555.9" r="3.2" stroke="none"/><circle cx="248.0" cy="561.6" r="3.2" stroke="none"/><circle cx="254.7" cy="451.8" r="3.2" stroke="none"/><circle cx="254.7" cy="457.8" r="3.2" stroke="none"/><circle cx="254.7" cy="464.0" r="3.2" stroke="none"/><circle cx="254.7" cy="487.2" r="3.2" stroke="none"/><circle cx="254.7" cy="493.5" r="3.2" stroke="none"/><circle cx="254.7" cy="506.0" r="3.2" stroke="none"/><circle cx="254.7" cy="518.5" r="3.2" stroke="none"/><circle cx="254.7" cy="524.7" r="3.2" stroke="none"/><circle cx="269.2" cy="492.7" r="3.2" stroke="none"/><circle cx="269.2" cy="498.5" r="3.2" stroke="none"/><circle cx="269.2" cy="504.7" r="3.2" stroke="none"/><circle cx="301.6" cy="484.8" r="3.2" stroke="none"/><circle cx="316.6" cy="432.3" r="3.2" stroke="none"/><circle cx="316.6" cy="439.1" r="3.2" stroke="none"/><circle cx="316.6" cy="460.3" r="3.2" stroke="none"/><circle cx="316.6" cy="464.8" r="3.2" stroke="none"/><circle cx="316.6" cy="490.5" r="3.2" stroke="none"/><circle cx="325.4" cy="533.4" r="3.2" stroke="none"/><circle cx="399.0" cy="456.0" r="3.2" stroke="none"/><circle cx="399.0" cy="542.2" r="3.2" stroke="none"/><rect x="399.7" y="458.5" width="6.7" height="155.7" rx="3" stroke="none"/><rect x="432.7" y="506.0" width="6.2" height="108.2" rx="3" stroke="none"/><rect x="441.9" y="486.0" width="6.2" height="128.2" rx="3" stroke="none"/><rect x="452.7" y="471.0" width="6.2" height="143.2" rx="3" stroke="none"/><rect x="461.4" y="528.4" width="7.5" height="85.8" rx="3" stroke="none"/><rect x="473.1" y="452.3" width="7.0" height="161.9" rx="3" stroke="none"/><rect x="481.4" y="533.4" width="8.7" height="80.8" rx="3" stroke="none"/><rect x="501.8" y="518.5" width="7.0" height="95.7" rx="3" stroke="none"/><rect x="513.3" y="508.5" width="6.7" height="105.7" rx="3" stroke="none"/><rect x="522.6" y="516.0" width="6.2" height="98.2" rx="3" stroke="none"/><rect x="541.3" y="513.5" width="7.5" height="100.7" rx="3" stroke="none"/><rect x="551.8" y="516.0" width="7.0" height="98.2" rx="3" stroke="none"/><rect x="559.3" y="506.0" width="6.5" height="108.2" rx="3" stroke="none"/><rect x="565.8" y="463.5" width="4.2" height="150.7" rx="3" stroke="none"/><rect x="406.5" y="565.9" width="26.2" height="48.3" rx="3" stroke="none"/><rect x="528.8" y="550.9" width="12.5" height="63.3" rx="3" stroke="none"/><rect x="490.1" y="528.4" width="11.7" height="85.8" rx="3" stroke="none"/><path d="M493.1 433.5V474.1" stroke-width="6.2"/><circle cx="409.5" cy="520.9" r="3.2" stroke="none"/><circle cx="425.7" cy="538.4" r="3.2" stroke="none"/><circle cx="493.1" cy="484.3" r="3.2" stroke="none"/><circle cx="525.8" cy="501.7" r="3.2" stroke="none"/><circle cx="525.8" cy="507.7" r="3.2" stroke="none"/><path d="M586.9 543.9V608.2" stroke-width="6.0"/><path d="M635.1 539.9V608.2" stroke-width="5.5"/><rect x="566.9" y="463.5" width="7.0" height="150.7" rx="3" stroke="none"/><rect x="575.7" y="461.0" width="7.0" height="153.2" rx="3" stroke="none"/><rect x="591.4" y="523.4" width="8.7" height="90.8" rx="3" stroke="none"/><rect x="600.1" y="513.5" width="6.2" height="100.7" rx="3" stroke="none"/><rect x="606.9" y="481.0" width="7.0" height="133.2" rx="3" stroke="none"/><rect x="615.9" y="533.4" width="6.0" height="80.8" rx="3" stroke="none"/><rect x="638.1" y="488.5" width="7.0" height="125.7" rx="3" stroke="none"/><rect x="658.0" y="471.0" width="6.5" height="143.2" rx="3" stroke="none"/><rect x="668.3" y="520.9" width="6.7" height="93.3" rx="3" stroke="none"/><rect x="677.5" y="525.9" width="5.7" height="88.3" rx="3" stroke="none"/><rect x="582.6" y="554.6" width="8.7" height="59.6" rx="3" stroke="none"/><rect x="621.8" y="552.2" width="16.2" height="62.0" rx="3" stroke="none"/><rect x="645.1" y="564.6" width="13.0" height="49.6" rx="3" stroke="none"/><circle cx="630.1" cy="540.9" r="3.2" stroke="none"/><circle cx="661.3" cy="442.8" r="3.2" stroke="none"/><circle cx="661.3" cy="461.0" r="3.2" stroke="none"/></g>
<g stroke="#cc0000" fill="none" stroke-linecap="round" stroke-width="6"><path d="M68.2 513.5V522.2"/><path d="M132.6 519.2V527.2"/><path d="M172.6 472.8V474.8"/><path d="M182.6 513.5V524.7"/><path d="M205.5 524.2V527.2"/><path d="M166.1 530.2V534.7"/><path d="M94.4 537.7V542.2"/><path d="M89.5 549.7V550.2"/><path d="M213.0 567.6V574.6"/><path d="M254.7 430.3V438.6"/><path d="M254.7 451.1V451.3"/><path d="M254.7 471.8V479.8"/><path d="M254.7 499.0V499.2"/><path d="M254.7 512.2V512.5"/><path d="M316.6 427.3V427.8"/><path d="M316.6 472.8V473.3"/><path d="M316.6 502.7V509.7"/><path d="M334.1 422.8V427.3"/><path d="M340.8 461.0V494.7"/><path d="M330.4 458.5V474.8"/><path d="M374.0 495.2V501.0"/><path d="M365.3 502.7V512.2"/><path d="M287.9 520.9V521.4"/><path d="M231.0 548.4V557.1"/><path d="M301.6 501.0V501.5"/><path d="M357.8 548.4V559.6"/><path d="M377.8 540.9V549.7"/><path d="M493.1 354.4V381.2"/><path d="M493.1 394.4V399.9"/><path d="M493.1 409.4V427.3"/><path d="M476.4 386.9V412.4"/><path d="M476.4 422.8V427.3"/><path d="M476.4 437.8V444.8"/><path d="M465.2 495.2V507.2"/><path d="M465.2 521.7V524.7"/><path d="M444.7 523.4V534.7"/><path d="M402.7 514.7V515.2"/><path d="M402.7 537.2V537.7"/><path d="M412.7 550.9V559.6"/><path d="M505.1 516.0V524.7"/><path d="M545.0 520.2V524.7"/><path d="M568.8 459.0V462.3"/><path d="M563.8 505.2V505.7"/><path d="M472.6 513.5V527.2"/><path d="M531.3 559.1V564.6"/><path d="M570.2 459.0V462.3"/><path d="M602.6 502.7V512.2"/><path d="M610.1 492.7V494.7"/><path d="M580.2 540.9V564.6"/><path d="M605.1 548.4V559.6"/><path d="M631.3 548.4V559.6"/><path d="M663.8 490.2V494.7"/><path d="M675.0 549.7V550.2"/></g>
<g stroke="#000" fill="#cc0000" stroke-width="1.4"><circle cx="172.6" cy="428.8" r="3.9"/><circle cx="68.2" cy="485.3" r="3.9"/><circle cx="175.6" cy="487.5" r="3.9"/><circle cx="132.6" cy="509.2" r="3.9"/><circle cx="182.6" cy="505.5" r="3.9"/><circle cx="166.8" cy="508.2" r="3.9"/><circle cx="166.3" cy="518.0" r="3.9"/><circle cx="205.5" cy="517.0" r="3.9"/><circle cx="72.5" cy="525.4" r="3.9"/><circle cx="76.2" cy="523.9" r="3.9"/><circle cx="80.0" cy="528.4" r="3.9"/><circle cx="94.4" cy="525.4" r="3.9"/><circle cx="94.4" cy="532.9" r="3.9"/><circle cx="116.9" cy="528.9" r="3.9"/><circle cx="130.6" cy="534.2" r="3.9"/><circle cx="163.1" cy="529.9" r="3.9"/><circle cx="153.6" cy="542.4" r="3.9"/><circle cx="179.3" cy="542.2" r="3.9"/><circle cx="197.0" cy="537.9" r="3.9"/><circle cx="228.0" cy="540.9" r="3.9"/><circle cx="254.7" cy="421.6" r="3.9"/><circle cx="316.6" cy="421.1" r="3.9"/><circle cx="334.1" cy="417.1" r="3.9"/><circle cx="337.1" cy="447.8" r="3.9"/><circle cx="339.8" cy="452.3" r="3.9"/><circle cx="332.1" cy="455.0" r="3.9"/><circle cx="374.0" cy="465.5" r="3.9"/><circle cx="236.2" cy="480.5" r="3.9"/><circle cx="282.2" cy="493.0" r="3.9"/><circle cx="298.4" cy="493.2" r="3.9"/><circle cx="365.3" cy="496.5" r="3.9"/><circle cx="235.0" cy="514.0" r="3.9"/><circle cx="269.2" cy="515.2" r="3.9"/><circle cx="287.7" cy="511.7" r="3.9"/><circle cx="363.3" cy="516.2" r="3.9"/><circle cx="269.2" cy="527.2" r="3.9"/><circle cx="333.6" cy="529.2" r="3.9"/><circle cx="378.5" cy="532.4" r="3.9"/><circle cx="359.8" cy="533.9" r="3.9"/><circle cx="358.6" cy="536.7" r="3.9"/><circle cx="284.9" cy="536.4" r="3.9"/><circle cx="288.7" cy="536.4" r="3.9"/><circle cx="271.9" cy="540.2" r="3.9"/><circle cx="231.0" cy="541.2" r="3.9"/><circle cx="313.6" cy="540.2" r="3.9"/><circle cx="340.6" cy="541.7" r="3.9"/><circle cx="352.1" cy="542.2" r="3.9"/><circle cx="493.1" cy="351.2" r="3.9"/><circle cx="476.1" cy="382.9" r="3.9"/><circle cx="403.2" cy="455.8" r="3.9"/><circle cx="477.6" cy="466.8" r="3.9"/><circle cx="475.9" cy="469.8" r="3.9"/><circle cx="455.9" cy="484.3" r="3.9"/><circle cx="476.6" cy="483.0" r="3.9"/><circle cx="465.2" cy="491.2" r="3.9"/><circle cx="444.7" cy="501.2" r="3.9"/><circle cx="473.1" cy="501.2" r="3.9"/><circle cx="505.3" cy="501.5" r="3.9"/><circle cx="435.7" cy="514.0" r="3.9"/><circle cx="491.9" cy="514.7" r="3.9"/><circle cx="475.9" cy="519.0" r="3.9"/><circle cx="525.8" cy="520.2" r="3.9"/><circle cx="516.8" cy="526.7" r="3.9"/><circle cx="525.8" cy="532.4" r="3.9"/><circle cx="546.8" cy="507.2" r="3.9"/><circle cx="543.5" cy="514.0" r="3.9"/><circle cx="545.0" cy="536.7" r="3.9"/><circle cx="555.0" cy="533.2" r="3.9"/><circle cx="562.0" cy="518.5" r="3.9"/><circle cx="563.8" cy="501.2" r="3.9"/><circle cx="409.5" cy="542.2" r="3.9"/><circle cx="481.4" cy="540.9" r="3.9"/><circle cx="487.1" cy="537.2" r="3.9"/><circle cx="567.7" cy="534.2" r="3.9"/><circle cx="570.4" cy="451.6" r="3.9"/><circle cx="569.4" cy="478.5" r="3.9"/><circle cx="578.7" cy="468.5" r="3.9"/><circle cx="576.7" cy="507.7" r="3.9"/><circle cx="573.2" cy="523.7" r="3.9"/><circle cx="573.4" cy="542.4" r="3.9"/><circle cx="578.4" cy="536.4" r="3.9"/><circle cx="580.4" cy="535.7" r="3.9"/><circle cx="595.1" cy="525.9" r="3.9"/><circle cx="594.4" cy="531.7" r="3.9"/><circle cx="595.1" cy="534.7" r="3.9"/><circle cx="595.9" cy="540.4" r="3.9"/><circle cx="602.6" cy="497.2" r="3.9"/><circle cx="609.6" cy="487.2" r="3.9"/><circle cx="610.9" cy="500.5" r="3.9"/><circle cx="604.6" cy="540.4" r="3.9"/><circle cx="610.1" cy="541.4" r="3.9"/><circle cx="618.6" cy="533.2" r="3.9"/><circle cx="640.3" cy="521.9" r="3.9"/><circle cx="641.8" cy="485.3" r="3.9"/><circle cx="661.3" cy="450.6" r="3.9"/><circle cx="660.3" cy="496.2" r="3.9"/><circle cx="660.5" cy="529.7" r="3.9"/><circle cx="661.3" cy="537.4" r="3.9"/><circle cx="664.5" cy="541.9" r="3.9"/><circle cx="671.0" cy="533.2" r="3.9"/><circle cx="675.0" cy="528.4" r="3.9"/></g>
<path d="M56.9 318.0V616.8H683.0" fill="none" stroke="#1a1a1a" stroke-width="1.9"/>
<path d="M87.0 616.8v5.5M136.9 616.8v5.5M184.3 616.8v5.5M229.2 616.8v5.5M270.9 616.8v5.5M310.9 616.8v5.5M349.6 616.8v5.5M384.8 616.8v5.5M415.2 616.8v5.5M443.9 616.8v5.5M475.1 616.8v5.5M505.1 616.8v5.5M531.4 616.8v5.5M552.8 616.8v5.5M571.9 616.8v5.5M590.6 616.8v5.5M608.4 616.8v5.5M625.1 616.8v5.5M641.8 616.8v5.5M655.5 616.8v5.5M666.8 616.8v5.5M676.3 616.8v5.5M56.9 613.6h-3.8M56.9 578.6h-3.8M56.9 543.5h-3.8M56.9 508.5h-3.8M56.9 473.5h-3.8M56.9 438.5h-3.8M56.9 403.4h-3.8M56.9 368.4h-3.8M56.9 333.4h-3.8" stroke="#1a1a1a" stroke-width="1.6" fill="none"/>
<text x="50.6" y="617.7" text-anchor="end" font-size="17">0</text>
<text x="50.6" y="582.7" text-anchor="end" font-size="17">1</text>
<text x="50.6" y="547.6" text-anchor="end" font-size="17">2</text>
<text x="50.6" y="512.6" text-anchor="end" font-size="17">3</text>
<text x="50.6" y="477.6" text-anchor="end" font-size="17">4</text>
<text x="50.6" y="442.6" text-anchor="end" font-size="17">5</text>
<text x="50.6" y="407.5" text-anchor="end" font-size="17">6</text>
<text x="50.6" y="372.5" text-anchor="end" font-size="17">7</text>
<text x="50.6" y="337.5" text-anchor="end" font-size="17">8</text>
<text transform="translate(30.0 463.0) rotate(-90)" text-anchor="middle" font-size="19.5">-log<tspan font-size="15.5" dy="9" dx="2.5">10</tspan><tspan dy="-9" dx="-1"> (condFDR)</tspan></text>
<circle cx="555.2" cy="333.0" r="3.8" fill="#808080"/><circle cx="555.2" cy="350.7" r="3.8" fill="#cc0000"/><text x="570.2" y="338.8" font-size="16.9">BD I</text><text x="570.2" y="356.5" font-size="16.9">BD I | Irritable</text>
<rect x="111.2" y="633.0" width="51.1" height="297.5" fill="#e5e5e5"/>
<rect x="206.0" y="633.0" width="45.2" height="297.5" fill="#e5e5e5"/>
<rect x="290.4" y="633.0" width="41.4" height="297.5" fill="#e5e5e5"/>
<rect x="368.3" y="633.0" width="33.2" height="297.5" fill="#e5e5e5"/>
<rect x="429.0" y="633.0" width="31.2" height="297.5" fill="#e5e5e5"/>
<rect x="490.9" y="633.0" width="29.9" height="297.5" fill="#e5e5e5"/>
<rect x="543.4" y="633.0" width="20.5" height="297.5" fill="#e5e5e5"/>
<rect x="581.4" y="633.0" width="18.0" height="297.5" fill="#e5e5e5"/>
<rect x="617.1" y="633.0" width="18.5" height="297.5" fill="#e5e5e5"/>
<rect x="649.6" y="633.0" width="13.7" height="297.5" fill="#e5e5e5"/>
<rect x="671.8" y="633.0" width="9.0" height="297.5" fill="#e5e5e5"/>
<path d="M57.8 859.2H683.0" stroke="#555" stroke-width="0.9" stroke-dasharray="1.2 1.6" fill="none"/>
<polygon fill="#808080" points="60.8,930.5 60.8,867.2 61.8,867.2 61.8,868.4 63.8,868.4 63.8,876.4 65.8,876.4 65.8,866.9 66.8,866.9 66.8,869.2 68.8,869.2 68.8,869.3 70.3,869.3 70.3,864.2 71.3,864.2 71.3,866.7 73.3,866.7 73.3,869.0 76.3,869.0 76.3,875.9 78.3,875.9 78.3,865.8 81.3,865.8 81.3,862.1 83.3,862.1 83.3,862.1 86.3,862.1 86.3,863.8 89.3,863.8 89.3,867.3 90.3,867.3 90.3,867.5 91.3,867.5 91.3,868.6 93.3,868.6 93.3,869.2 94.3,869.2 94.3,868.5 96.3,868.5 96.3,867.7 98.3,867.7 98.3,863.7 99.0,863.7 99.0,864.9 101.0,864.9 101.0,860.1 102.0,860.1 102.0,868.7 104.0,868.7 104.0,865.4 106.0,865.4 106.0,868.1 107.0,868.1 107.0,863.3 109.0,863.3 109.0,869.4 112.0,869.4 112.0,869.0 112.7,869.0 112.7,868.5 115.7,868.5 115.7,875.4 118.7,875.4 118.7,864.0 119.7,864.0 119.7,869.7 120.7,869.7 120.7,870.6 121.7,870.6 121.7,871.3 123.7,871.3 123.7,867.5 125.2,867.5 125.2,876.6 127.2,876.6 127.2,867.1 128.2,867.1 128.2,868.1 131.2,868.1 131.2,869.3 133.2,869.3 133.2,865.2 135.2,865.2 135.2,868.0 138.2,868.0 138.2,864.0 140.2,864.0 140.2,861.6 141.7,861.6 141.7,869.1 143.7,869.1 143.7,867.8 145.7,867.8 145.7,867.5 147.7,867.5 147.7,867.8 149.7,867.8 149.7,866.6 150.7,866.6 150.7,870.2 152.2,870.2 152.2,872.7 154.2,872.7 154.2,868.5 156.2,868.5 156.2,867.3 157.2,867.3 157.2,868.5 160.2,868.5 160.2,867.3 161.2,867.3 161.2,874.3 164.2,874.3 164.2,868.2 166.2,868.2 166.2,866.7 168.2,866.7 168.2,865.1 169.2,865.1 169.2,867.7 169.9,867.7 169.9,866.8 170.9,866.8 170.9,867.0 173.9,867.0 173.9,866.8 174.9,866.8 174.9,867.4 176.9,867.4 176.9,877.4 177.6,877.4 177.6,864.3 178.6,864.3 178.6,866.3 179.6,866.3 179.6,864.5 182.6,864.5 182.6,866.0 183.6,866.0 183.6,866.6 185.6,866.6 185.6,866.5 186.6,866.5 186.6,869.5 188.6,869.5 188.6,868.1 189.6,868.1 189.6,863.8 192.6,863.8 192.6,863.8 194.1,863.8 194.1,868.9 196.1,868.9 196.1,864.7 199.1,864.7 199.1,869.4 200.1,869.4 200.1,868.5 203.1,868.5 203.1,867.4 204.1,867.4 204.1,860.9 204.8,860.9 204.8,860.1 205.8,860.1 205.8,873.5 207.8,873.5 207.8,867.6 208.5,867.6 208.5,874.0 210.5,874.0 210.5,861.3 211.2,861.3 211.2,869.6 212.2,869.6 212.2,869.0 214.2,869.0 214.2,867.1 215.2,867.1 215.2,867.4 218.2,867.4 218.2,860.5 219.2,860.5 219.2,861.7 222.2,861.7 222.2,867.5 224.2,867.5 224.2,868.6 225.2,868.6 225.2,868.1 227.2,868.1 227.2,864.3 230.2,864.3 230.2,872.7 233.2,872.7 233.2,872.4 233.9,872.4 233.9,873.8 235.9,873.8 235.9,872.5 236.9,872.5 236.9,871.0 238.4,871.0 238.4,875.3 239.4,875.3 239.4,874.0 240.9,874.0 240.9,870.1 242.9,870.1 242.9,873.4 244.9,873.4 244.9,871.1 246.9,871.1 246.9,870.8 248.9,870.8 248.9,880.3 250.4,880.3 250.4,871.6 253.4,871.6 253.4,872.4 255.4,872.4 255.4,874.4 256.4,874.4 256.4,872.4 257.1,872.4 257.1,869.6 258.1,869.6 258.1,867.1 259.1,867.1 259.1,873.7 262.1,873.7 262.1,866.4 262.8,866.4 262.8,866.1 265.8,866.1 265.8,873.3 267.8,873.3 267.8,874.1 269.8,874.1 269.8,873.0 270.5,873.0 270.5,876.0 272.0,876.0 272.0,871.8 272.7,871.8 272.7,882.0 275.7,882.0 275.7,876.2 276.4,876.2 276.4,869.5 277.9,869.5 277.9,872.6 279.9,872.6 279.9,871.2 282.9,871.2 282.9,874.5 283.9,874.5 283.9,873.3 285.9,873.3 285.9,872.5 287.9,872.5 287.9,871.5 288.9,871.5 288.9,871.7 290.9,871.7 290.9,869.5 291.9,869.5 291.9,872.5 293.9,872.5 293.9,875.1 295.9,875.1 295.9,872.7 298.9,872.7 298.9,871.0 300.9,871.0 300.9,874.4 302.9,874.4 302.9,870.5 304.4,870.5 304.4,875.5 305.1,875.5 305.1,875.4 307.1,875.4 307.1,874.5 309.1,874.5 309.1,875.8 312.1,875.8 312.1,867.6 313.1,867.6 313.1,869.9 315.1,869.9 315.1,872.7 317.1,872.7 317.1,874.0 319.1,874.0 319.1,874.9 320.1,874.9 320.1,874.6 323.1,874.6 323.1,875.5 324.1,875.5 324.1,877.0 327.1,877.0 327.1,874.2 328.6,874.2 328.6,871.8 330.6,871.8 330.6,885.0 332.6,885.0 332.6,873.4 333.3,873.4 333.3,870.9 335.3,870.9 335.3,868.5 336.3,868.5 336.3,871.2 339.3,871.2 339.3,876.7 342.3,876.7 342.3,874.6 345.3,874.6 345.3,874.9 347.3,874.9 347.3,874.2 348.3,874.2 348.3,876.2 349.3,876.2 349.3,874.8 350.0,874.8 350.0,880.7 351.0,880.7 351.0,875.0 353.0,875.0 353.0,875.2 354.0,875.2 354.0,875.8 354.7,875.8 354.7,875.7 356.2,875.7 356.2,870.7 356.9,870.7 356.9,876.7 358.4,876.7 358.4,876.9 359.4,876.9 359.4,873.6 360.4,873.6 360.4,876.1 361.9,876.1 361.9,867.8 363.9,867.8 363.9,871.2 364.6,871.2 364.6,872.9 366.6,872.9 366.6,875.1 368.6,875.1 368.6,876.2 370.6,876.2 370.6,876.0 372.6,876.0 372.6,875.2 374.6,875.2 374.6,874.4 376.6,874.4 376.6,875.0 378.6,875.0 378.6,873.4 380.6,873.4 380.6,873.2 381.6,873.2 381.6,872.2 382.6,872.2 382.6,872.0 383.3,872.0 383.3,873.5 385.3,873.5 385.3,875.2 386.0,875.2 386.0,875.5 389.0,875.5 389.0,876.4 390.0,876.4 390.0,871.3 391.0,871.3 391.0,876.4 392.5,876.4 392.5,877.0 393.5,877.0 393.5,874.3 394.5,874.3 394.5,871.4 395.2,871.4 395.2,874.6 395.9,874.6 395.9,873.5 397.4,873.5 397.4,875.9 399.4,875.9 399.4,874.6 402.4,874.6 402.4,874.6 404.4,874.6 404.4,876.4 407.4,876.4 407.4,873.3 408.1,873.3 408.1,869.5 409.6,869.5 409.6,869.8 411.6,869.8 411.6,868.3 413.1,868.3 413.1,868.4 414.1,868.4 414.1,872.1 414.8,872.1 414.8,876.3 415.5,876.3 415.5,875.6 416.5,875.6 416.5,876.4 418.0,876.4 418.0,881.1 419.0,881.1 419.0,870.6 421.0,870.6 421.0,867.5 422.0,867.5 422.0,874.3 423.0,874.3 423.0,882.0 423.7,882.0 423.7,875.7 425.7,875.7 425.7,876.7 426.7,876.7 426.7,874.7 428.7,874.7 428.7,871.3 431.7,871.3 431.7,877.0 433.7,877.0 433.7,874.2 436.7,874.2 436.7,876.3 437.7,876.3 437.7,876.4 439.2,876.4 439.2,874.7 440.7,874.7 440.7,875.5 441.7,875.5 441.7,875.3 442.4,875.3 442.4,874.1 444.4,874.1 444.4,873.4 445.9,873.4 445.9,874.2 446.9,874.2 446.9,875.2 447.9,875.2 447.9,875.3 449.9,875.3 449.9,874.0 450.6,874.0 450.6,875.4 451.6,875.4 451.6,874.1 452.6,874.1 452.6,874.6 454.6,874.6 454.6,875.9 455.3,875.9 455.3,874.2 456.8,874.2 456.8,875.0 457.5,875.0 457.5,874.8 458.2,874.8 458.2,881.0 459.7,881.0 459.7,875.2 460.7,875.2 460.7,875.9 461.7,875.9 461.7,868.7 462.7,868.7 462.7,873.9 465.7,873.9 465.7,867.9 468.7,867.9 468.7,875.7 469.7,875.7 469.7,872.5 470.4,872.5 470.4,874.2 471.4,874.2 471.4,868.7 472.9,868.7 472.9,876.1 473.6,876.1 473.6,874.2 474.3,874.2 474.3,875.6 475.0,875.6 475.0,877.0 476.0,877.0 476.0,875.5 477.5,875.5 477.5,870.9 478.5,870.9 478.5,872.5 479.5,872.5 479.5,874.9 481.0,874.9 481.0,875.6 484.0,875.6 484.0,876.1 486.0,876.1 486.0,876.3 487.5,876.3 487.5,876.9 489.5,876.9 489.5,869.6 490.5,869.6 490.5,875.4 492.0,875.4 492.0,874.9 494.0,874.9 494.0,876.3 495.0,876.3 495.0,871.3 497.0,871.3 497.0,876.2 497.7,876.2 497.7,874.7 498.4,874.7 498.4,874.7 500.4,874.7 500.4,871.8 501.4,871.8 501.4,871.6 502.1,871.6 502.1,876.7 503.6,876.7 503.6,875.2 505.6,875.2 505.6,876.4 506.3,876.4 506.3,875.0 507.0,875.0 507.0,876.0 508.5,876.0 508.5,871.1 509.5,871.1 509.5,877.0 511.5,877.0 511.5,877.0 512.2,877.0 512.2,873.0 513.2,873.0 513.2,872.6 515.2,872.6 515.2,867.9 518.2,867.9 518.2,874.3 519.7,874.3 519.7,872.7 522.7,872.7 522.7,870.3 525.7,870.3 525.7,875.4 526.7,875.4 526.7,872.3 527.7,872.3 527.7,872.0 528.4,872.0 528.4,873.4 531.4,873.4 531.4,874.4 533.4,874.4 533.4,869.3 536.4,869.3 536.4,875.7 537.9,875.7 537.9,876.0 539.4,876.0 539.4,875.5 540.4,875.5 540.4,868.3 541.1,868.3 541.1,876.0 542.1,876.0 542.1,874.8 544.1,874.8 544.1,869.7 547.1,869.7 547.1,874.8 548.6,874.8 548.6,876.8 549.6,876.8 549.6,876.7 551.6,876.7 551.6,871.3 553.6,871.3 553.6,873.6 555.6,873.6 555.6,867.3 556.6,867.3 556.6,867.1 558.1,867.1 558.1,867.4 559.6,867.4 559.6,871.0 560.6,871.0 560.6,878.3 561.3,878.3 561.3,876.0 563.3,876.0 563.3,874.7 564.0,874.7 564.0,875.1 565.5,875.1 565.5,876.4 567.5,876.4 567.5,874.9 568.5,874.9 568.5,874.7 570.0,874.7 570.0,872.2 571.5,872.2 571.5,861.6 573.0,861.6 573.0,863.4 574.0,863.4 574.0,871.1 575.5,871.1 575.5,870.7 576.5,870.7 576.5,874.1 577.5,874.1 577.5,867.9 578.5,867.9 578.5,863.0 579.5,863.0 579.5,869.7 580.2,869.7 580.2,878.7 582.2,878.7 582.2,870.4 582.9,870.4 582.9,871.0 584.4,871.0 584.4,865.0 585.4,865.0 585.4,868.9 586.4,868.9 586.4,866.7 587.4,866.7 587.4,869.0 590.4,869.0 590.4,867.1 591.4,867.1 591.4,868.2 593.4,868.2 593.4,879.1 594.9,879.1 594.9,861.9 595.9,861.9 595.9,862.1 596.9,862.1 596.9,867.1 599.9,867.1 599.9,879.7 602.9,879.7 602.9,879.4 603.6,879.4 603.6,881.7 605.6,881.7 605.6,881.3 607.1,881.3 607.1,877.9 610.1,877.9 610.1,881.2 611.6,881.2 611.6,881.4 612.6,881.4 612.6,880.5 615.6,880.5 615.6,880.1 616.6,880.1 616.6,882.2 617.6,882.2 617.6,879.7 618.6,879.7 618.6,881.9 619.3,881.9 619.3,881.1 622.3,881.1 622.3,882.7 623.3,882.7 623.3,875.5 625.3,875.5 625.3,872.5 628.3,872.5 628.3,875.3 629.0,875.3 629.0,877.8 629.7,877.8 629.7,875.3 632.7,875.3 632.7,876.2 633.7,876.2 633.7,875.2 636.7,875.2 636.7,868.3 637.7,868.3 637.7,873.9 638.7,873.9 638.7,875.9 639.4,875.9 639.4,878.0 640.1,878.0 640.1,876.7 642.1,876.7 642.1,875.6 644.1,875.6 644.1,876.1 647.1,876.1 647.1,869.3 648.1,869.3 648.1,876.5 649.6,876.5 649.6,876.8 650.6,876.8 650.6,878.0 651.6,878.0 651.6,877.2 652.6,877.2 652.6,869.4 654.6,869.4 654.6,881.2 656.6,881.2 656.6,875.4 657.6,875.4 657.6,875.6 658.6,875.6 658.6,885.8 659.6,885.8 659.6,877.4 661.6,877.4 661.6,878.1 663.1,878.1 663.1,875.4 664.1,875.4 664.1,876.2 665.1,876.2 665.1,875.7 667.1,875.7 667.1,868.2 668.1,868.2 668.1,876.7 669.1,876.7 669.1,877.6 670.6,877.6 670.6,880.9 672.1,880.9 672.1,874.3 674.1,874.3 674.1,876.7 675.6,876.7 675.6,876.5 677.1,876.5 677.1,876.9 678.6,876.9 678.6,875.4 680.6,875.4 680.6,875.4 681.0,875.4 681.0,930.5"/>
<g stroke="#808080" fill="none" stroke-linecap="round"><path d="M75.6 866.3V925.5" stroke-width="6.0"/><path d="M79.1 847.7V925.5" stroke-width="6.0"/><path d="M83.0 865.8V925.5" stroke-width="3.0"/><path d="M87.6 847.7V925.5" stroke-width="2.5"/><path d="M101.4 865.5V925.5" stroke-width="2.5"/><path d="M114.7 854.9V925.5" stroke-width="6.0"/><path d="M124.5 853.1V925.5" stroke-width="3.0"/><path d="M144.4 856.0V925.5" stroke-width="5.0"/><path d="M148.3 866.1V925.5" stroke-width="2.5"/><path d="M160.7 860.1V925.5" stroke-width="6.0"/><path d="M176.7 863.9V925.5" stroke-width="3.0"/><path d="M182.2 867.1V925.5" stroke-width="3.0"/><path d="M186.0 858.2V925.5" stroke-width="2.5"/><path d="M190.1 850.3V925.5" stroke-width="4.0"/><path d="M193.3 866.4V925.5" stroke-width="2.5"/><path d="M195.8 865.7V925.5" stroke-width="4.0"/><path d="M208.4 859.6V925.5" stroke-width="4.0"/><path d="M211.6 862.9V925.5" stroke-width="4.0"/><path d="M216.4 866.9V925.5" stroke-width="4.0"/><path d="M223.8 853.1V925.5" stroke-width="2.5"/><path d="M230.2 871.5V925.5" stroke-width="3.0"/><path d="M237.9 853.5V925.5" stroke-width="3.0"/><path d="M247.3 864.5V925.5" stroke-width="4.0"/><path d="M256.2 870.0V925.5" stroke-width="4.0"/><path d="M262.4 853.3V925.5" stroke-width="2.5"/><path d="M266.1 861.7V925.5" stroke-width="2.5"/><path d="M271.6 862.0V925.5" stroke-width="4.0"/><path d="M274.6 873.1V925.5" stroke-width="4.0"/><path d="M277.7 870.6V925.5" stroke-width="6.0"/><path d="M282.1 853.3V925.5" stroke-width="4.0"/><path d="M285.4 868.2V925.5" stroke-width="5.0"/><path d="M291.8 863.2V925.5" stroke-width="4.0"/><path d="M296.3 869.1V925.5" stroke-width="2.5"/><path d="M299.1 870.1V925.5" stroke-width="2.5"/><path d="M308.6 864.1V925.5" stroke-width="5.0"/><path d="M313.2 872.5V925.5" stroke-width="5.0"/><path d="M323.5 872.6V925.5" stroke-width="4.0"/><path d="M327.6 867.9V925.5" stroke-width="5.0"/><path d="M333.2 859.6V925.5" stroke-width="6.0"/><path d="M337.9 874.4V925.5" stroke-width="4.0"/><path d="M343.9 874.1V925.5" stroke-width="4.0"/><path d="M349.2 863.9V925.5" stroke-width="4.0"/><path d="M353.3 858.2V925.5" stroke-width="5.0"/><path d="M356.7 865.5V925.5" stroke-width="2.5"/><path d="M360.1 855.0V925.5" stroke-width="4.0"/><path d="M365.0 872.3V925.5" stroke-width="2.5"/><path d="M382.3 869.5V925.5" stroke-width="2.5"/><path d="M403.5 873.1V925.5" stroke-width="5.0"/><path d="M413.3 855.0V925.5" stroke-width="5.0"/><path d="M419.4 874.4V925.5" stroke-width="6.0"/><path d="M424.7 872.6V925.5" stroke-width="3.0"/><path d="M427.7 867.8V925.5" stroke-width="2.5"/><path d="M439.3 862.8V925.5" stroke-width="4.0"/><path d="M443.5 868.8V925.5" stroke-width="4.0"/><path d="M455.6 855.0V925.5" stroke-width="2.5"/><path d="M458.6 862.4V925.5" stroke-width="3.0"/><path d="M463.1 869.3V925.5" stroke-width="3.0"/><path d="M468.2 869.9V925.5" stroke-width="3.0"/><path d="M474.6 870.8V925.5" stroke-width="4.0"/><path d="M480.3 868.1V925.5" stroke-width="4.0"/><path d="M488.8 871.6V925.5" stroke-width="4.0"/><path d="M498.4 868.1V925.5" stroke-width="4.0"/><path d="M504.3 866.7V925.5" stroke-width="3.0"/><path d="M514.7 873.9V925.5" stroke-width="3.0"/><path d="M517.4 871.7V925.5" stroke-width="3.0"/><path d="M521.0 873.3V925.5" stroke-width="4.0"/><path d="M523.6 872.7V925.5" stroke-width="4.0"/><path d="M533.7 868.0V925.5" stroke-width="4.0"/><path d="M539.1 870.5V925.5" stroke-width="5.0"/><path d="M548.6 873.4V925.5" stroke-width="5.0"/><path d="M556.2 873.0V925.5" stroke-width="6.0"/><path d="M562.0 874.9V925.5" stroke-width="2.5"/><path d="M567.2 861.4V925.5" stroke-width="5.0"/><path d="M582.3 864.3V925.5" stroke-width="4.0"/><path d="M598.1 879.7V925.5" stroke-width="6.0"/><path d="M611.0 878.1V925.5" stroke-width="5.0"/><path d="M615.3 860.3V925.5" stroke-width="5.0"/><path d="M620.2 875.6V925.5" stroke-width="3.0"/><path d="M624.0 868.7V925.5" stroke-width="6.0"/><path d="M628.3 868.2V925.5" stroke-width="2.5"/><path d="M645.7 873.9V925.5" stroke-width="4.0"/><path d="M648.3 871.1V925.5" stroke-width="3.0"/><path d="M653.3 873.3V925.5" stroke-width="2.5"/><path d="M655.9 873.6V925.5" stroke-width="6.0"/><path d="M658.8 869.7V925.5" stroke-width="2.5"/><path d="M662.5 875.2V925.5" stroke-width="3.0"/><path d="M666.6 874.5V925.5" stroke-width="2.5"/><path d="M671.0 873.9V925.5" stroke-width="4.0"/><path d="M677.3 874.0V925.5" stroke-width="4.0"/></g>
<g stroke="#808080" fill="#808080" stroke-linecap="round" stroke-width="6.4"><rect x="62.0" y="828.5" width="7.5" height="102.0" rx="3" stroke="none"/><rect x="69.5" y="751.1" width="12.0" height="179.4" rx="3" stroke="none"/><rect x="74.5" y="721.1" width="7.0" height="209.4" rx="3" stroke="none"/><rect x="90.7" y="801.0" width="6.2" height="129.5" rx="3" stroke="none"/><rect x="96.9" y="813.5" width="5.7" height="117.0" rx="3" stroke="none"/><rect x="102.7" y="828.5" width="5.5" height="102.0" rx="3" stroke="none"/><rect x="113.2" y="826.0" width="6.2" height="104.5" rx="3" stroke="none"/><rect x="121.4" y="840.9" width="11.7" height="89.6" rx="3" stroke="none"/><rect x="134.4" y="835.9" width="6.2" height="94.6" rx="3" stroke="none"/><rect x="141.9" y="835.9" width="5.5" height="94.6" rx="3" stroke="none"/><rect x="151.4" y="811.0" width="6.7" height="119.5" rx="3" stroke="none"/><rect x="162.6" y="831.0" width="5.5" height="99.5" rx="3" stroke="none"/><rect x="171.1" y="811.0" width="8.2" height="119.5" rx="3" stroke="none"/><rect x="185.1" y="783.5" width="6.7" height="147.0" rx="3" stroke="none"/><rect x="193.8" y="818.5" width="6.2" height="112.0" rx="3" stroke="none"/><rect x="203.8" y="838.4" width="6.0" height="92.1" rx="3" stroke="none"/><rect x="211.3" y="833.5" width="6.7" height="97.0" rx="3" stroke="none"/><rect x="218.0" y="838.4" width="5.7" height="92.1" rx="3" stroke="none"/><rect x="82.0" y="854.7" width="8.7" height="75.8" rx="3" stroke="none"/><circle cx="188.1" cy="779.0" r="3.2" stroke="none"/><circle cx="226.8" cy="842.7" r="3.2" stroke="none"/><path d="M335.8 728.4V924.5" stroke-width="6.0"/><rect x="233.5" y="838.4" width="7.0" height="92.1" rx="3" stroke="none"/><rect x="228.0" y="850.9" width="5.0" height="79.6" rx="3" stroke="none"/><rect x="243.0" y="850.9" width="7.5" height="79.6" rx="3" stroke="none"/><rect x="262.4" y="845.9" width="6.7" height="84.6" rx="3" stroke="none"/><rect x="269.9" y="724.9" width="6.2" height="205.6" rx="3" stroke="none"/><rect x="282.9" y="742.3" width="6.7" height="188.2" rx="3" stroke="none"/><rect x="293.4" y="724.9" width="9.0" height="205.6" rx="3" stroke="none"/><rect x="304.9" y="806.0" width="6.7" height="124.5" rx="3" stroke="none"/><rect x="311.6" y="831.0" width="6.2" height="99.5" rx="3" stroke="none"/><rect x="320.4" y="811.0" width="7.5" height="119.5" rx="3" stroke="none"/><rect x="332.8" y="793.5" width="6.2" height="137.0" rx="3" stroke="none"/><rect x="349.1" y="813.5" width="7.5" height="117.0" rx="3" stroke="none"/><rect x="355.8" y="761.1" width="7.0" height="169.4" rx="3" stroke="none"/><rect x="369.0" y="828.5" width="6.7" height="102.0" rx="3" stroke="none"/><rect x="376.5" y="843.4" width="7.5" height="87.1" rx="3" stroke="none"/><rect x="384.0" y="838.4" width="15.0" height="92.1" rx="3" stroke="none"/><circle cx="230.0" cy="843.4" r="3.2" stroke="none"/><circle cx="256.0" cy="848.4" r="3.2" stroke="none"/><circle cx="335.8" cy="766.8" r="3.2" stroke="none"/><circle cx="342.8" cy="818.0" r="3.2" stroke="none"/><circle cx="335.8" cy="754.8" r="3.2" stroke="none"/><rect x="402.0" y="774.8" width="7.0" height="155.7" rx="3" stroke="none"/><rect x="408.5" y="801.0" width="6.7" height="129.5" rx="3" stroke="none"/><rect x="421.0" y="799.8" width="6.2" height="130.7" rx="3" stroke="none"/><rect x="427.2" y="845.9" width="8.0" height="84.6" rx="3" stroke="none"/><rect x="441.4" y="831.0" width="6.2" height="99.5" rx="3" stroke="none"/><rect x="450.2" y="776.0" width="6.2" height="154.5" rx="3" stroke="none"/><rect x="464.4" y="828.5" width="9.5" height="102.0" rx="3" stroke="none"/><rect x="476.9" y="748.6" width="7.0" height="181.9" rx="3" stroke="none"/><rect x="482.6" y="772.3" width="6.2" height="158.2" rx="3" stroke="none"/><rect x="492.6" y="838.4" width="6.2" height="92.1" rx="3" stroke="none"/><rect x="498.9" y="826.0" width="7.5" height="104.5" rx="3" stroke="none"/><rect x="507.6" y="840.9" width="12.5" height="89.6" rx="3" stroke="none"/><rect x="521.3" y="768.5" width="6.2" height="162.0" rx="3" stroke="none"/><rect x="526.3" y="813.5" width="5.5" height="117.0" rx="3" stroke="none"/><rect x="532.6" y="831.0" width="5.7" height="99.5" rx="3" stroke="none"/><rect x="545.0" y="731.1" width="6.7" height="199.4" rx="3" stroke="none"/><rect x="553.3" y="791.0" width="6.7" height="139.5" rx="3" stroke="none"/><rect x="559.3" y="763.6" width="6.5" height="166.9" rx="3" stroke="none"/><rect x="565.8" y="828.5" width="4.2" height="102.0" rx="3" stroke="none"/><circle cx="405.2" cy="743.6" r="3.2" stroke="none"/><circle cx="405.2" cy="748.6" r="3.2" stroke="none"/><circle cx="453.2" cy="746.1" r="3.2" stroke="none"/><circle cx="453.2" cy="756.8" r="3.2" stroke="none"/><circle cx="502.6" cy="806.0" r="3.2" stroke="none"/><circle cx="502.6" cy="810.2" r="3.2" stroke="none"/><circle cx="535.1" cy="819.7" r="3.2" stroke="none"/><rect x="573.9" y="831.0" width="16.2" height="99.5" rx="3" stroke="none"/><rect x="583.1" y="803.5" width="6.5" height="127.0" rx="3" stroke="none"/><rect x="590.1" y="831.0" width="7.5" height="99.5" rx="3" stroke="none"/><rect x="625.1" y="741.1" width="6.2" height="189.4" rx="3" stroke="none"/><rect x="632.1" y="801.0" width="6.0" height="129.5" rx="3" stroke="none"/><rect x="675.0" y="838.4" width="5.7" height="92.1" rx="3" stroke="none"/><rect x="621.3" y="769.8" width="3.7" height="160.7" rx="3" stroke="none"/><rect x="655.0" y="848.4" width="6.2" height="82.1" rx="3" stroke="none"/><rect x="668.8" y="849.7" width="6.2" height="80.8" rx="3" stroke="none"/><circle cx="577.7" cy="818.5" r="3.2" stroke="none"/><circle cx="610.1" cy="847.2" r="3.2" stroke="none"/><circle cx="613.9" cy="844.2" r="3.2" stroke="none"/><circle cx="613.4" cy="855.9" r="3.2" stroke="none"/><circle cx="628.1" cy="724.9" r="3.2" stroke="none"/><circle cx="635.1" cy="794.8" r="3.2" stroke="none"/><circle cx="658.3" cy="770.3" r="3.2" stroke="none"/><circle cx="658.3" cy="775.3" r="3.2" stroke="none"/><circle cx="658.3" cy="779.8" r="3.2" stroke="none"/><circle cx="658.3" cy="806.0" r="3.2" stroke="none"/><circle cx="671.3" cy="847.2" r="3.2" stroke="none"/><circle cx="607.6" cy="847.7" r="3.2" stroke="none"/></g>
<g stroke="#cc0000" fill="none" stroke-linecap="round" stroke-width="6"><path d="M65.7 803.5V827.2"/><path d="M64.0 804.7V827.2"/><path d="M67.5 809.7V827.2"/><path d="M78.2 717.9V721.9"/><path d="M70.7 747.3V749.8"/><path d="M174.3 771.0V809.7"/><path d="M93.2 815.2V827.2"/><path d="M124.4 831.0V844.7"/><path d="M128.1 833.5V844.7"/><path d="M165.1 831.0V854.7"/><path d="M188.1 829.7V832.2"/><path d="M216.8 835.2V839.7"/><path d="M87.0 860.2V864.7"/><path d="M272.9 677.9V722.4"/><path d="M335.8 679.4V709.9"/><path d="M335.8 720.4V721.9"/><path d="M322.9 769.8V809.7"/><path d="M325.9 769.8V809.7"/><path d="M334.1 780.3V789.8"/><path d="M334.1 810.2V829.7"/><path d="M337.1 810.2V829.7"/><path d="M372.3 792.8V827.2"/><path d="M236.7 832.7V838.4"/><path d="M315.4 825.2V834.7"/><path d="M300.9 766.1V766.6"/><path d="M300.9 784.8V785.3"/><path d="M272.9 786.0V786.5"/><path d="M385.3 822.7V827.2"/><path d="M385.3 842.7V852.2"/><path d="M394.0 822.7V837.2"/><path d="M359.1 797.8V804.7"/><path d="M258.0 862.7V872.1"/><path d="M411.5 758.6V789.8"/><path d="M405.2 780.3V792.3"/><path d="M480.1 706.1V746.1"/><path d="M485.6 732.8V754.8"/><path d="M467.6 788.5V827.2"/><path d="M470.9 794.8V827.2"/><path d="M444.7 810.2V829.7"/><path d="M453.2 810.2V814.7"/><path d="M431.5 845.9V869.6"/><path d="M516.3 817.7V829.7"/><path d="M528.8 795.3V812.2"/><path d="M556.3 747.8V789.8"/><path d="M562.5 725.4V762.3"/><path d="M424.0 837.2V837.7"/><path d="M548.3 807.2V807.7"/><path d="M458.9 875.1V882.1"/><path d="M586.4 775.3V799.8"/><path d="M628.1 692.9V722.4"/><path d="M628.1 734.1V739.8"/><path d="M658.3 766.1V766.3"/><path d="M658.3 792.8V793.0"/><path d="M671.8 826.0V859.7"/><path d="M675.0 826.0V859.7"/><path d="M623.8 780.3V789.8"/><path d="M593.4 837.7V844.7"/><path d="M658.3 856.4V859.7"/><path d="M617.6 875.9V884.6"/></g>
<g stroke="#000" fill="#cc0000" stroke-width="1.4"><circle cx="78.2" cy="716.1" r="3.9"/><circle cx="73.2" cy="743.8" r="3.9"/><circle cx="73.2" cy="773.0" r="3.9"/><circle cx="70.7" cy="787.8" r="3.9"/><circle cx="76.5" cy="802.2" r="3.9"/><circle cx="65.2" cy="807.7" r="3.9"/><circle cx="66.5" cy="837.2" r="3.9"/><circle cx="72.7" cy="837.2" r="3.9"/><circle cx="98.9" cy="802.2" r="3.9"/><circle cx="94.4" cy="812.2" r="3.9"/><circle cx="104.9" cy="821.7" r="3.9"/><circle cx="104.9" cy="829.2" r="3.9"/><circle cx="93.9" cy="840.4" r="3.9"/><circle cx="96.2" cy="842.2" r="3.9"/><circle cx="98.7" cy="843.9" r="3.9"/><circle cx="106.4" cy="842.7" r="3.9"/><circle cx="85.7" cy="854.2" r="3.9"/><circle cx="94.4" cy="855.9" r="3.9"/><circle cx="102.2" cy="856.4" r="3.9"/><circle cx="124.9" cy="814.5" r="3.9"/><circle cx="116.2" cy="829.0" r="3.9"/><circle cx="116.2" cy="832.7" r="3.9"/><circle cx="124.9" cy="828.0" r="3.9"/><circle cx="133.1" cy="823.2" r="3.9"/><circle cx="130.9" cy="831.7" r="3.9"/><circle cx="117.7" cy="856.2" r="3.9"/><circle cx="123.2" cy="857.2" r="3.9"/><circle cx="155.1" cy="822.2" r="3.9"/><circle cx="165.1" cy="826.5" r="3.9"/><circle cx="155.1" cy="837.9" r="3.9"/><circle cx="148.1" cy="843.7" r="3.9"/><circle cx="144.9" cy="849.2" r="3.9"/><circle cx="154.1" cy="849.7" r="3.9"/><circle cx="141.4" cy="855.9" r="3.9"/><circle cx="142.4" cy="857.2" r="3.9"/><circle cx="144.9" cy="855.4" r="3.9"/><circle cx="174.1" cy="766.8" r="3.9"/><circle cx="188.1" cy="791.5" r="3.9"/><circle cx="187.8" cy="841.9" r="3.9"/><circle cx="170.1" cy="843.9" r="3.9"/><circle cx="176.6" cy="843.9" r="3.9"/><circle cx="174.3" cy="852.2" r="3.9"/><circle cx="177.6" cy="855.4" r="3.9"/><circle cx="171.3" cy="857.2" r="3.9"/><circle cx="173.8" cy="857.9" r="3.9"/><circle cx="196.8" cy="857.7" r="3.9"/><circle cx="206.8" cy="840.4" r="3.9"/><circle cx="210.5" cy="824.2" r="3.9"/><circle cx="216.3" cy="826.7" r="3.9"/><circle cx="220.5" cy="832.7" r="3.9"/><circle cx="217.5" cy="854.2" r="3.9"/><circle cx="272.9" cy="669.4" r="3.9"/><circle cx="335.8" cy="669.4" r="3.9"/><circle cx="297.4" cy="733.3" r="3.9"/><circle cx="285.9" cy="771.0" r="3.9"/><circle cx="324.9" cy="765.6" r="3.9"/><circle cx="332.3" cy="777.3" r="3.9"/><circle cx="322.4" cy="789.3" r="3.9"/><circle cx="372.3" cy="786.5" r="3.9"/><circle cx="359.1" cy="792.3" r="3.9"/><circle cx="356.6" cy="795.3" r="3.9"/><circle cx="269.9" cy="806.0" r="3.9"/><circle cx="325.4" cy="807.7" r="3.9"/><circle cx="270.9" cy="820.2" r="3.9"/><circle cx="307.9" cy="822.7" r="3.9"/><circle cx="315.4" cy="820.2" r="3.9"/><circle cx="329.9" cy="819.7" r="3.9"/><circle cx="236.7" cy="828.5" r="3.9"/><circle cx="352.1" cy="826.5" r="3.9"/><circle cx="378.5" cy="827.2" r="3.9"/><circle cx="384.5" cy="815.2" r="3.9"/><circle cx="394.5" cy="810.2" r="3.9"/><circle cx="395.3" cy="819.7" r="3.9"/><circle cx="273.7" cy="837.7" r="3.9"/><circle cx="269.9" cy="840.4" r="3.9"/><circle cx="269.2" cy="843.4" r="3.9"/><circle cx="273.7" cy="849.7" r="3.9"/><circle cx="239.7" cy="847.9" r="3.9"/><circle cx="286.4" cy="850.9" r="3.9"/><circle cx="313.6" cy="838.4" r="3.9"/><circle cx="307.9" cy="846.7" r="3.9"/><circle cx="304.4" cy="850.2" r="3.9"/><circle cx="296.4" cy="859.2" r="3.9"/><circle cx="332.6" cy="840.4" r="3.9"/><circle cx="342.3" cy="837.4" r="3.9"/><circle cx="332.3" cy="853.4" r="3.9"/><circle cx="332.6" cy="858.9" r="3.9"/><circle cx="363.6" cy="843.4" r="3.9"/><circle cx="357.8" cy="852.2" r="3.9"/><circle cx="360.8" cy="855.4" r="3.9"/><circle cx="384.5" cy="836.9" r="3.9"/><circle cx="390.5" cy="838.4" r="3.9"/><circle cx="390.3" cy="856.7" r="3.9"/><circle cx="394.5" cy="855.9" r="3.9"/><circle cx="397.8" cy="857.7" r="3.9"/><circle cx="480.1" cy="700.9" r="3.9"/><circle cx="485.6" cy="729.1" r="3.9"/><circle cx="562.8" cy="719.9" r="3.9"/><circle cx="556.3" cy="746.1" r="3.9"/><circle cx="548.3" cy="768.0" r="3.9"/><circle cx="412.0" cy="754.3" r="3.9"/><circle cx="405.2" cy="760.3" r="3.9"/><circle cx="412.0" cy="779.5" r="3.9"/><circle cx="405.2" cy="797.0" r="3.9"/><circle cx="407.0" cy="807.2" r="3.9"/><circle cx="474.4" cy="773.0" r="3.9"/><circle cx="453.2" cy="779.3" r="3.9"/><circle cx="467.6" cy="784.8" r="3.9"/><circle cx="473.6" cy="794.0" r="3.9"/><circle cx="528.8" cy="789.3" r="3.9"/><circle cx="424.0" cy="805.7" r="3.9"/><circle cx="444.7" cy="808.5" r="3.9"/><circle cx="424.0" cy="822.5" r="3.9"/><circle cx="480.1" cy="812.2" r="3.9"/><circle cx="485.6" cy="810.2" r="3.9"/><circle cx="474.6" cy="815.2" r="3.9"/><circle cx="524.3" cy="810.2" r="3.9"/><circle cx="516.3" cy="814.7" r="3.9"/><circle cx="480.1" cy="828.5" r="3.9"/><circle cx="485.4" cy="830.2" r="3.9"/><circle cx="496.4" cy="826.0" r="3.9"/><circle cx="502.6" cy="831.0" r="3.9"/><circle cx="531.8" cy="830.5" r="3.9"/><circle cx="539.5" cy="829.7" r="3.9"/><circle cx="538.8" cy="836.4" r="3.9"/><circle cx="565.8" cy="825.2" r="3.9"/><circle cx="432.0" cy="840.2" r="3.9"/><circle cx="444.7" cy="839.7" r="3.9"/><circle cx="453.2" cy="842.7" r="3.9"/><circle cx="419.0" cy="845.4" r="3.9"/><circle cx="415.2" cy="850.9" r="3.9"/><circle cx="409.0" cy="854.7" r="3.9"/><circle cx="399.0" cy="857.7" r="3.9"/><circle cx="425.2" cy="858.4" r="3.9"/><circle cx="429.0" cy="857.2" r="3.9"/><circle cx="443.4" cy="855.4" r="3.9"/><circle cx="452.7" cy="859.2" r="3.9"/><circle cx="467.6" cy="853.9" r="3.9"/><circle cx="471.6" cy="855.9" r="3.9"/><circle cx="490.1" cy="843.7" r="3.9"/><circle cx="485.4" cy="850.4" r="3.9"/><circle cx="482.1" cy="857.7" r="3.9"/><circle cx="485.4" cy="858.4" r="3.9"/><circle cx="516.8" cy="852.7" r="3.9"/><circle cx="514.3" cy="859.2" r="3.9"/><circle cx="528.8" cy="852.7" r="3.9"/><circle cx="531.8" cy="855.4" r="3.9"/><circle cx="534.8" cy="851.7" r="3.9"/><circle cx="550.0" cy="844.7" r="3.9"/><circle cx="546.3" cy="855.4" r="3.9"/><circle cx="548.3" cy="858.4" r="3.9"/><circle cx="561.5" cy="850.4" r="3.9"/><circle cx="567.5" cy="857.2" r="3.9"/><circle cx="565.7" cy="825.2" r="3.9"/><circle cx="567.2" cy="857.2" r="3.9"/><circle cx="585.9" cy="771.0" r="3.9"/><circle cx="583.4" cy="826.5" r="3.9"/><circle cx="592.6" cy="830.2" r="3.9"/><circle cx="574.7" cy="836.2" r="3.9"/><circle cx="579.4" cy="836.7" r="3.9"/><circle cx="585.6" cy="837.9" r="3.9"/><circle cx="592.6" cy="835.2" r="3.9"/><circle cx="583.9" cy="842.7" r="3.9"/><circle cx="577.9" cy="849.2" r="3.9"/><circle cx="587.1" cy="851.7" r="3.9"/><circle cx="577.9" cy="857.2" r="3.9"/><circle cx="580.9" cy="857.7" r="3.9"/><circle cx="583.4" cy="857.2" r="3.9"/><circle cx="586.6" cy="857.2" r="3.9"/><circle cx="628.6" cy="669.9" r="3.9"/><circle cx="624.6" cy="744.1" r="3.9"/><circle cx="628.6" cy="758.1" r="3.9"/><circle cx="627.6" cy="760.3" r="3.9"/><circle cx="628.3" cy="773.8" r="3.9"/><circle cx="628.3" cy="794.8" r="3.9"/><circle cx="635.1" cy="809.5" r="3.9"/><circle cx="628.3" cy="819.2" r="3.9"/><circle cx="628.3" cy="829.7" r="3.9"/><circle cx="623.3" cy="836.2" r="3.9"/><circle cx="625.1" cy="839.2" r="3.9"/><circle cx="627.6" cy="840.9" r="3.9"/><circle cx="630.1" cy="844.7" r="3.9"/><circle cx="628.8" cy="848.9" r="3.9"/><circle cx="623.1" cy="850.4" r="3.9"/><circle cx="627.6" cy="854.7" r="3.9"/><circle cx="658.8" cy="758.1" r="3.9"/><circle cx="678.8" cy="815.5" r="3.9"/><circle cx="672.0" cy="820.5" r="3.9"/><circle cx="677.5" cy="824.2" r="3.9"/></g>
<path d="M57.0 633.5V932.7H681.5" fill="none" stroke="#1a1a1a" stroke-width="1.9"/>
<path d="M87.5 932.7v5.5M136.9 932.7v5.5M184.6 932.7v5.5M229.2 932.7v5.5M270.9 932.7v5.5M311.1 932.7v5.5M349.8 932.7v5.5M384.8 932.7v5.5M415.5 932.7v5.5M444.2 932.7v5.5M475.4 932.7v5.5M505.3 932.7v5.5M531.5 932.7v5.5M553.0 932.7v5.5M572.4 932.7v5.5M590.7 932.7v5.5M608.4 932.7v5.5M626.0 932.7v5.5M642.1 932.7v5.5M655.8 932.7v9.0M667.3 932.7v5.5M675.9 932.7v9.0M57.0 929.3h-3.8M57.0 894.3h-3.8M57.0 859.2h-3.8M57.0 824.2h-3.8M57.0 789.2h-3.8M57.0 754.1h-3.8M57.0 719.1h-3.8M57.0 684.1h-3.8M57.0 649.1h-3.8" stroke="#1a1a1a" stroke-width="1.6" fill="none"/>
<text x="50.7" y="933.4" text-anchor="end" font-size="17">0</text>
<text x="50.7" y="898.4" text-anchor="end" font-size="17">1</text>
<text x="50.7" y="863.3" text-anchor="end" font-size="17">2</text>
<text x="50.7" y="828.3" text-anchor="end" font-size="17">3</text>
<text x="50.7" y="793.3" text-anchor="end" font-size="17">4</text>
<text x="50.7" y="758.2" text-anchor="end" font-size="17">5</text>
<text x="50.7" y="723.2" text-anchor="end" font-size="17">6</text>
<text x="50.7" y="688.2" text-anchor="end" font-size="17">7</text>
<text x="50.7" y="653.2" text-anchor="end" font-size="17">8</text>
<text transform="translate(30.0 778.5) rotate(-90)" text-anchor="middle" font-size="19.5">-log<tspan font-size="15.5" dy="9" dx="2.5">10</tspan><tspan dy="-9" dx="-1"> (condFDR)</tspan></text>
<circle cx="555.2" cy="649.0" r="3.8" fill="#808080"/><circle cx="555.2" cy="666.7" r="3.8" fill="#cc0000"/><text x="570.2" y="654.8" font-size="16.9">MDD</text><text x="570.2" y="672.5" font-size="16.9">MDD | Irritable</text>
<text x="87.5" y="950.2" text-anchor="middle" font-size="13.2">1</text><text x="136.9" y="950.2" text-anchor="middle" font-size="13.2">2</text><text x="184.6" y="950.2" text-anchor="middle" font-size="13.2">3</text><text x="229.2" y="950.2" text-anchor="middle" font-size="13.2">4</text><text x="270.9" y="950.2" text-anchor="middle" font-size="13.2">5</text><text x="311.1" y="950.2" text-anchor="middle" font-size="13.2">6</text><text x="349.8" y="950.2" text-anchor="middle" font-size="13.2">7</text><text x="384.8" y="950.2" text-anchor="middle" font-size="13.2">8</text><text x="415.5" y="950.2" text-anchor="middle" font-size="13.2">9</text><text x="444.2" y="950.2" text-anchor="middle" font-size="13.2">10</text><text x="475.4" y="950.2" text-anchor="middle" font-size="13.2">11</text><text x="505.3" y="950.2" text-anchor="middle" font-size="13.2">12</text><text x="531.5" y="950.2" text-anchor="middle" font-size="13.2">13</text><text x="553.0" y="950.2" text-anchor="middle" font-size="13.2">14</text><text x="572.4" y="950.2" text-anchor="middle" font-size="13.2">15</text><text x="590.7" y="950.2" text-anchor="middle" font-size="13.2">16</text><text x="608.4" y="950.2" text-anchor="middle" font-size="13.2">17</text><text x="626.0" y="950.2" text-anchor="middle" font-size="13.2">18</text><text x="642.1" y="950.2" text-anchor="middle" font-size="13.2">19</text><text x="656.0" y="963.8" text-anchor="middle" font-size="13.2">20</text><text x="667.5" y="950.2" text-anchor="middle" font-size="13.2">21</text><text x="675.7" y="963.8" text-anchor="middle" font-size="13.2">22</text>
<text x="378.2" y="968.5" text-anchor="middle" font-size="19.4">Chromosome</text>
<text x="-0.8" y="988.8" font-size="26">b</text>
<rect x="56.8" y="984" width="624.3" height="449.2" fill="#fff" stroke="#5f5f5f" stroke-width="1.4"/>
<path d="M53.5 1413.5H57.5" stroke="#222" stroke-width="1.1"/>
<text x="51.5" y="1419.5" text-anchor="end" font-size="17">0</text>
<path d="M53.5 1345.3H57.5" stroke="#222" stroke-width="1.1"/>
<text x="51.5" y="1351.3" text-anchor="end" font-size="17">50</text>
<path d="M53.5 1277.1H57.5" stroke="#222" stroke-width="1.1"/>
<text x="51.5" y="1283.1" text-anchor="end" font-size="17">100</text>
<path d="M53.5 1208.9H57.5" stroke="#222" stroke-width="1.1"/>
<text x="51.5" y="1214.9" text-anchor="end" font-size="17">150</text>
<path d="M53.5 1140.7H57.5" stroke="#222" stroke-width="1.1"/>
<text x="51.5" y="1146.7" text-anchor="end" font-size="17">200</text>
<path d="M53.5 1072.5H57.5" stroke="#222" stroke-width="1.1"/>
<text x="51.5" y="1078.5" text-anchor="end" font-size="17">250</text>
<path d="M53.5 1004.3H57.5" stroke="#222" stroke-width="1.1"/>
<text x="51.5" y="1010.3" text-anchor="end" font-size="17">300</text>
<text transform="translate(17.5 1214) rotate(-90)" text-anchor="middle" font-size="19">Number of loci</text>
<rect x="153.3" y="1214.4" width="66.8" height="199.1" fill="#b3b3b3"/><rect x="153.3" y="1071.1" width="66.8" height="143.2" fill="#ee2007"/><rect x="153.9" y="1153.0" width="65.6" height="61.4" fill="#fa4612" stroke="#000" stroke-width="1.2"/>
<rect x="322.5" y="1356.2" width="66.5" height="57.3" fill="#b3b3b3"/><rect x="322.5" y="1282.6" width="66.5" height="73.7" fill="#ee2007"/>
<rect x="516.2" y="1335.8" width="66.4" height="77.7" fill="#b3b3b3"/><rect x="516.2" y="1189.8" width="66.4" height="145.9" fill="#ee2007"/><rect x="516.8" y="1319.4" width="65.2" height="16.4" fill="#fa4612" stroke="#000" stroke-width="1.2"/>
<path d="M153.0 1071.1Q147.0 1071.1 147.0 1073.3V1104.3Q147.0 1106.1 145.2 1106.1H140.5M145.2 1106.1Q147.0 1106.1 147.0 1107.9V1212.2Q147.0 1214.4 153.0 1214.4" fill="none" stroke="#000" stroke-width="1.1"/>
<path d="M153.0 1214.4Q147.0 1214.4 147.0 1216.6V1240.2Q147.0 1242.0 145.2 1242.0H140.5M145.2 1242.0Q147.0 1242.0 147.0 1243.8V1411.3Q147.0 1413.5 153.0 1413.5" fill="none" stroke="#000" stroke-width="1.1"/>
<path d="M222.1 1153.0Q228.6 1153.0 228.6 1155.2V1167.2Q228.6 1169.0 230.4 1169.0H234.4M230.4 1169.0Q228.6 1169.0 228.6 1170.8V1212.2Q228.6 1214.4 222.1 1214.4" fill="none" stroke="#000" stroke-width="1.1"/>
<path d="M321.7 1282.6Q315.7 1282.6 315.7 1284.8V1300.2Q315.7 1302.0 313.9 1302.0H309.2M313.9 1302.0Q315.7 1302.0 315.7 1303.8V1354.0Q315.7 1356.2 321.7 1356.2" fill="none" stroke="#000" stroke-width="1.1"/>
<path d="M321.7 1356.2Q315.7 1356.2 315.7 1358.4V1368.8Q315.7 1370.6 313.9 1370.6H309.2M313.9 1370.6Q315.7 1370.6 315.7 1372.4V1411.3Q315.7 1413.5 321.7 1413.5" fill="none" stroke="#000" stroke-width="1.1"/>
<path d="M582.6 1189.8Q588.6 1189.8 588.6 1192.0V1206.3Q588.6 1208.1 590.4 1208.1H595.1M590.4 1208.1Q588.6 1208.1 588.6 1209.9V1333.6Q588.6 1335.8 582.6 1335.8" fill="none" stroke="#000" stroke-width="1.1"/>
<path d="M582.6 1335.8Q588.6 1335.8 588.6 1338.0V1352.6Q588.6 1354.4 590.4 1354.4H595.1M590.4 1354.4Q588.6 1354.4 588.6 1356.2V1411.3Q588.6 1413.5 582.6 1413.5" fill="none" stroke="#000" stroke-width="1.1"/>
<path d="M516.2 1319.4Q507.5 1319.4 507.5 1321.6V1324.5Q507.5 1326.3 505.7 1326.3H501.0M505.7 1326.3Q507.5 1326.3 507.5 1328.1V1333.6Q507.5 1335.8 516.2 1335.8" fill="none" stroke="#000" stroke-width="1.1"/>
<text x="185.8" y="1062.0" text-anchor="middle" font-size="16.9">Total = 251</text>
<text x="355.7" y="1273.5" text-anchor="middle" font-size="16.9">Total = 96</text>
<text x="548.7" y="1180.0" text-anchor="middle" font-size="16.9">Total = 164</text>
<text x="136.2" y="1111.5" text-anchor="end" font-size="16.9">n = 105</text>
<text x="136.2" y="1247.3" text-anchor="end" font-size="16.9">n = 146</text>
<text x="239.6" y="1173.6" text-anchor="start" font-size="16.9">n = 45</text>
<text x="239.6" y="1188.5" text-anchor="start" font-size="12.8">(Trubetskoy <tspan font-style="italic">et al.</tspan>, 2022)</text>
<text x="305.5" y="1308.0" text-anchor="end" font-size="16.9">n = 54</text>
<text x="305.5" y="1376.6" text-anchor="end" font-size="16.9">n = 42</text>
<text x="602.6" y="1213.6" text-anchor="start" font-size="16.9">n = 107</text>
<text x="602.6" y="1359.6" text-anchor="start" font-size="16.9">n = 57</text>
<text x="495.3" y="1330.6" text-anchor="end" font-size="16.9">n = 12</text>
<text x="496.3" y="1345.4" text-anchor="end" font-size="12.8">(Giannakopoulou</text>
<text x="495.3" y="1360.9" text-anchor="end" font-size="12.8"><tspan font-style="italic">et al.</tspan>, 2021)</text>
<rect x="478.8" y="1016.4" width="14" height="14" fill="#b3b3b3"/>
<rect x="478.8" y="1057.4" width="14" height="14" fill="#ee2007"/>
<rect x="479.4" y="1099.4" width="12.8" height="12.8" fill="#fa4612" stroke="#000" stroke-width="1.2"/>
<text x="503.8" y="1012.4" text-anchor="start" font-size="12.8">Replicated loci discovered</text>
<text x="503.8" y="1028.4" text-anchor="start" font-size="12.8">in previous European GWAS</text>
<text x="503.8" y="1043.6" text-anchor="start" font-size="12.8">that we used in this analysis</text>
<text x="503.8" y="1060.3" text-anchor="start" font-size="12.8">Additional loci discovered</text>
<text x="503.8" y="1076.3" text-anchor="start" font-size="12.8">of psychiatric disorders</text>
<text x="503.8" y="1094.3" text-anchor="start" font-size="12.8">Replicated loci discovered</text>
<text x="503.8" y="1110.6" text-anchor="start" font-size="12.8">in the recent GWAS among</text>
<text x="503.8" y="1125.7" text-anchor="start" font-size="12.8">additionally discovered loci</text>
<text x="188.8" y="1452.8" text-anchor="middle" font-size="19">condFDR of SCZ</text>
<text x="362.1" y="1452.8" text-anchor="middle" font-size="19">condFDR of BD I</text>
<text x="547.7" y="1452.8" text-anchor="middle" font-size="19">condFDR of MDD</text>
<text x="188.8" y="1467.6" text-anchor="middle" font-size="15.2">(Pardiñas <tspan font-style="italic">et al.</tspan>, 2018)</text>
<text x="359.2" y="1467.6" text-anchor="middle" font-size="15.2">(Mullins <tspan font-style="italic">et al.</tspan>, 2021)</text>
<text x="547.5" y="1467.6" text-anchor="middle" font-size="15.2">(Howard <tspan font-style="italic">et al.</tspan>, 2019)</text>
</svg>
</body></html>
